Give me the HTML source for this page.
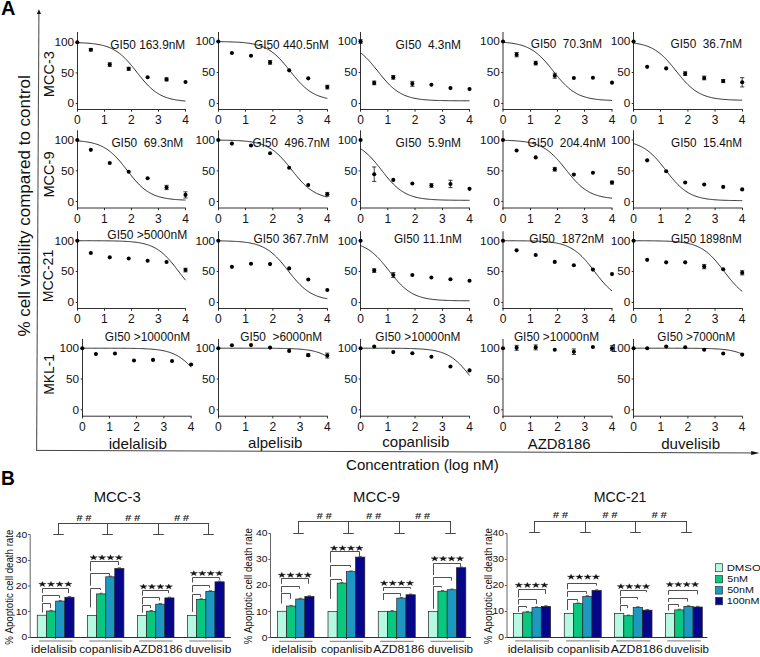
<!DOCTYPE html>
<html><head><meta charset="utf-8"><style>
html,body{margin:0;padding:0;background:#fff;}
svg{display:block;}
text{font-family:"Liberation Sans", sans-serif;font-kerning:none;white-space:pre;}
</style></head><body>
<svg width="760" height="657" viewBox="0 0 760 657">
<rect width="760" height="657" fill="#fff"/>
<text x="0.90" y="14.60" font-size="19.60" textLength="14.42" lengthAdjust="spacingAndGlyphs" font-weight="bold" fill="#000">A</text>
<line x1="38.90" y1="13.00" x2="36.60" y2="450.40" stroke="#555" stroke-width="1.1"/>
<line x1="36.10" y1="450.40" x2="752.50" y2="452.95" stroke="#444" stroke-width="1.0"/>
<polygon points="759.4,453.0 751.2,450.9 751.2,455.1" fill="#111"/>
<polygon points="38.95,9.2 36.9,13.9 41.0,13.9" fill="#111"/>
<text transform="translate(30.20,336.61) rotate(-90)" x="0" y="0" font-size="17.00" textLength="261.35" lengthAdjust="spacingAndGlyphs" fill="#111">% cell viability compared to control</text>
<text transform="translate(54.10,97.20) rotate(-90)" x="0" y="0" font-size="13.80" textLength="46.14" lengthAdjust="spacingAndGlyphs" fill="#111">MCC-3</text>
<text transform="translate(53.70,197.59) rotate(-90)" x="0" y="0" font-size="13.80" textLength="46.08" lengthAdjust="spacingAndGlyphs" fill="#111">MCC-9</text>
<text transform="translate(53.40,302.16) rotate(-90)" x="0" y="0" font-size="13.80" textLength="52.44" lengthAdjust="spacingAndGlyphs" fill="#111">MCC-21</text>
<text transform="translate(54.10,394.84) rotate(-90)" x="0" y="0" font-size="13.80" textLength="40.92" lengthAdjust="spacingAndGlyphs" fill="#111">MKL-1</text>
<line x1="77.50" y1="32.00" x2="77.50" y2="110.00" stroke="#1a1a1a" stroke-width="0.9"/>
<line x1="77.05" y1="109.50" x2="185.95" y2="109.50" stroke="#1a1a1a" stroke-width="0.9"/>
<line x1="77.50" y1="109.50" x2="77.50" y2="111.70" stroke="#1a1a1a" stroke-width="0.9"/>
<line x1="104.50" y1="109.50" x2="104.50" y2="111.70" stroke="#1a1a1a" stroke-width="0.9"/>
<line x1="131.50" y1="109.50" x2="131.50" y2="111.70" stroke="#1a1a1a" stroke-width="0.9"/>
<line x1="158.50" y1="109.50" x2="158.50" y2="111.70" stroke="#1a1a1a" stroke-width="0.9"/>
<line x1="185.50" y1="109.50" x2="185.50" y2="111.70" stroke="#1a1a1a" stroke-width="0.9"/>
<line x1="75.70" y1="103.50" x2="77.50" y2="103.50" stroke="#1a1a1a" stroke-width="0.9"/>
<line x1="75.70" y1="72.90" x2="77.50" y2="72.90" stroke="#1a1a1a" stroke-width="0.9"/>
<line x1="75.70" y1="42.50" x2="77.50" y2="42.50" stroke="#1a1a1a" stroke-width="0.9"/>
<text x="77.30" y="124.20" font-size="12.00" text-anchor="middle" fill="#111">0</text>
<text x="104.35" y="124.20" font-size="12.00" text-anchor="middle" fill="#111">1</text>
<text x="131.40" y="124.20" font-size="12.00" text-anchor="middle" fill="#111">2</text>
<text x="158.45" y="124.20" font-size="12.00" text-anchor="middle" fill="#111">3</text>
<text x="185.50" y="124.20" font-size="12.00" text-anchor="middle" fill="#111">4</text>
<text x="74.10" y="107.30" font-size="11.80" text-anchor="end" fill="#111">0</text>
<text x="74.10" y="76.70" font-size="11.80" text-anchor="end" fill="#111">50</text>
<text x="74.10" y="46.10" font-size="11.80" text-anchor="end" fill="#111">100</text>
<polyline points="77.30,42.67 78.20,42.70 79.10,42.74 80.00,42.77 80.91,42.81 81.81,42.85 82.71,42.89 83.61,42.94 84.51,42.99 85.41,43.04 86.32,43.10 87.22,43.16 88.12,43.23 89.02,43.30 89.92,43.38 90.83,43.47 91.73,43.56 92.63,43.66 93.53,43.76 94.43,43.88 95.33,44.00 96.23,44.13 97.14,44.27 98.04,44.42 98.94,44.58 99.84,44.76 100.74,44.95 101.64,45.15 102.55,45.36 103.45,45.59 104.35,45.84 105.25,46.11 106.15,46.39 107.06,46.69 107.96,47.01 108.86,47.36 109.76,47.72 110.66,48.12 111.56,48.53 112.47,48.97 113.37,49.44 114.27,49.94 115.17,50.46 116.07,51.02 116.97,51.61 117.88,52.23 118.78,52.88 119.68,53.56 120.58,54.28 121.48,55.03 122.38,55.82 123.28,56.64 124.19,57.49 125.09,58.37 125.99,59.29 126.89,60.24 127.79,61.22 128.69,62.22 129.60,63.25 130.50,64.31 131.40,65.38 132.30,66.48 133.20,67.59 134.11,68.72 135.01,69.85 135.91,70.99 136.81,72.14 137.71,73.28 138.61,74.42 139.51,75.55 140.42,76.68 141.32,77.79 142.22,78.89 143.12,79.96 144.02,81.02 144.93,82.05 145.83,83.05 146.73,84.03 147.63,84.98 148.53,85.90 149.43,86.78 150.34,87.63 151.24,88.45 152.14,89.24 153.04,89.99 153.94,90.71 154.84,91.39 155.75,92.04 156.65,92.66 157.55,93.25 158.45,93.81 159.35,94.33 160.25,94.83 161.16,95.30 162.06,95.74 162.96,96.15 163.86,96.55 164.76,96.91 165.66,97.26 166.56,97.58 167.47,97.88 168.37,98.16 169.27,98.43 170.17,98.68 171.07,98.91 171.97,99.12 172.88,99.32 173.78,99.51 174.68,99.69 175.58,99.85 176.48,100.00 177.38,100.14 178.29,100.27 179.19,100.39 180.09,100.51 180.99,100.61 181.89,100.71 182.80,100.80 183.70,100.89 184.60,100.97 185.50,101.04" fill="none" stroke="#151515" stroke-width="0.9"/>
<circle cx="77.30" cy="42.30" r="2.05" fill="#000"/>
<line x1="90.83" y1="48.48" x2="90.83" y2="50.93" stroke="#111" stroke-width="0.8"/>
<line x1="88.73" y1="48.48" x2="92.92" y2="48.48" stroke="#111" stroke-width="0.8"/>
<line x1="88.73" y1="50.93" x2="92.92" y2="50.93" stroke="#111" stroke-width="0.8"/>
<circle cx="90.83" cy="49.71" r="2.05" fill="#000"/>
<line x1="109.76" y1="62.74" x2="109.76" y2="66.41" stroke="#111" stroke-width="0.8"/>
<line x1="107.66" y1="62.74" x2="111.86" y2="62.74" stroke="#111" stroke-width="0.8"/>
<line x1="107.66" y1="66.41" x2="111.86" y2="66.41" stroke="#111" stroke-width="0.8"/>
<circle cx="109.76" cy="64.58" r="2.05" fill="#000"/>
<line x1="128.69" y1="67.27" x2="128.69" y2="70.33" stroke="#111" stroke-width="0.8"/>
<line x1="126.59" y1="67.27" x2="130.79" y2="67.27" stroke="#111" stroke-width="0.8"/>
<line x1="126.59" y1="70.33" x2="130.79" y2="70.33" stroke="#111" stroke-width="0.8"/>
<circle cx="128.69" cy="68.80" r="2.05" fill="#000"/>
<circle cx="147.63" cy="77.18" r="2.05" fill="#000"/>
<line x1="166.56" y1="77.86" x2="166.56" y2="80.92" stroke="#111" stroke-width="0.8"/>
<line x1="164.47" y1="77.86" x2="168.66" y2="77.86" stroke="#111" stroke-width="0.8"/>
<line x1="164.47" y1="80.92" x2="168.66" y2="80.92" stroke="#111" stroke-width="0.8"/>
<circle cx="166.56" cy="79.39" r="2.05" fill="#000"/>
<circle cx="185.50" cy="81.96" r="2.05" fill="#000"/>
<text x="110.21" y="48.50" font-size="12.50" textLength="74.97" lengthAdjust="spacingAndGlyphs" fill="#111">GI50 163.9nM</text>
<line x1="218.50" y1="32.00" x2="218.50" y2="110.00" stroke="#1a1a1a" stroke-width="0.9"/>
<line x1="218.05" y1="109.50" x2="327.75" y2="109.50" stroke="#1a1a1a" stroke-width="0.9"/>
<line x1="218.50" y1="109.50" x2="218.50" y2="111.70" stroke="#1a1a1a" stroke-width="0.9"/>
<line x1="245.50" y1="109.50" x2="245.50" y2="111.70" stroke="#1a1a1a" stroke-width="0.9"/>
<line x1="272.80" y1="109.50" x2="272.80" y2="111.70" stroke="#1a1a1a" stroke-width="0.9"/>
<line x1="300.05" y1="109.50" x2="300.05" y2="111.70" stroke="#1a1a1a" stroke-width="0.9"/>
<line x1="327.50" y1="109.50" x2="327.50" y2="111.70" stroke="#1a1a1a" stroke-width="0.9"/>
<line x1="216.70" y1="103.50" x2="218.50" y2="103.50" stroke="#1a1a1a" stroke-width="0.9"/>
<line x1="216.70" y1="72.50" x2="218.50" y2="72.50" stroke="#1a1a1a" stroke-width="0.9"/>
<line x1="216.70" y1="41.50" x2="218.50" y2="41.50" stroke="#1a1a1a" stroke-width="0.9"/>
<text x="218.30" y="123.90" font-size="12.00" text-anchor="middle" fill="#111">0</text>
<text x="245.55" y="123.90" font-size="12.00" text-anchor="middle" fill="#111">1</text>
<text x="272.80" y="123.90" font-size="12.00" text-anchor="middle" fill="#111">2</text>
<text x="300.05" y="123.90" font-size="12.00" text-anchor="middle" fill="#111">3</text>
<text x="327.30" y="123.90" font-size="12.00" text-anchor="middle" fill="#111">4</text>
<text x="215.10" y="107.10" font-size="11.80" text-anchor="end" fill="#111">0</text>
<text x="215.10" y="76.20" font-size="11.80" text-anchor="end" fill="#111">50</text>
<text x="215.10" y="45.30" font-size="11.80" text-anchor="end" fill="#111">100</text>
<polyline points="218.30,41.64 219.21,41.65 220.12,41.66 221.03,41.67 221.93,41.68 222.84,41.70 223.75,41.71 224.66,41.73 225.57,41.75 226.48,41.77 227.38,41.79 228.29,41.81 229.20,41.84 230.11,41.87 231.02,41.90 231.93,41.93 232.83,41.96 233.74,42.00 234.65,42.04 235.56,42.08 236.47,42.12 237.38,42.17 238.28,42.23 239.19,42.28 240.10,42.35 241.01,42.41 241.92,42.48 242.83,42.56 243.73,42.64 244.64,42.73 245.55,42.83 246.46,42.93 247.37,43.04 248.28,43.16 249.18,43.29 250.09,43.43 251.00,43.58 251.91,43.74 252.82,43.91 253.73,44.09 254.63,44.29 255.54,44.50 256.45,44.73 257.36,44.97 258.27,45.23 259.18,45.51 260.08,45.80 260.99,46.12 261.90,46.46 262.81,46.82 263.72,47.20 264.62,47.61 265.53,48.04 266.44,48.50 267.35,48.99 268.26,49.51 269.17,50.06 270.07,50.63 270.98,51.24 271.89,51.88 272.80,52.56 273.71,53.27 274.62,54.01 275.53,54.78 276.43,55.59 277.34,56.43 278.25,57.30 279.16,58.21 280.07,59.15 280.98,60.11 281.88,61.11 282.79,62.13 283.70,63.17 284.61,64.24 285.52,65.32 286.43,66.42 287.33,67.54 288.24,68.67 289.15,69.80 290.06,70.94 290.97,72.07 291.88,73.21 292.78,74.34 293.69,75.46 294.60,76.57 295.51,77.66 296.42,78.73 297.32,79.79 298.23,80.82 299.14,81.82 300.05,82.80 300.96,83.75 301.87,84.67 302.78,85.55 303.68,86.41 304.59,87.23 305.50,88.02 306.41,88.77 307.32,89.49 308.23,90.18 309.13,90.83 310.04,91.45 310.95,92.04 311.86,92.60 312.77,93.13 313.68,93.63 314.58,94.10 315.49,94.55 316.40,94.97 317.31,95.36 318.22,95.73 319.12,96.07 320.03,96.40 320.94,96.70 321.85,96.99 322.76,97.26 323.67,97.50 324.57,97.74 325.48,97.95 326.39,98.16 327.30,98.35" fill="none" stroke="#151515" stroke-width="0.9"/>
<circle cx="218.30" cy="41.50" r="2.05" fill="#000"/>
<circle cx="231.93" cy="52.99" r="2.05" fill="#000"/>
<circle cx="251.00" cy="55.71" r="2.05" fill="#000"/>
<line x1="270.07" y1="60.53" x2="270.07" y2="64.24" stroke="#111" stroke-width="0.8"/>
<line x1="267.97" y1="60.53" x2="272.18" y2="60.53" stroke="#111" stroke-width="0.8"/>
<line x1="267.97" y1="64.24" x2="272.18" y2="64.24" stroke="#111" stroke-width="0.8"/>
<circle cx="270.07" cy="62.39" r="2.05" fill="#000"/>
<circle cx="289.15" cy="70.36" r="2.05" fill="#000"/>
<circle cx="308.23" cy="78.33" r="2.05" fill="#000"/>
<line x1="327.30" y1="85.25" x2="327.30" y2="88.96" stroke="#111" stroke-width="0.8"/>
<line x1="325.20" y1="85.25" x2="329.40" y2="85.25" stroke="#111" stroke-width="0.8"/>
<line x1="325.20" y1="88.96" x2="329.40" y2="88.96" stroke="#111" stroke-width="0.8"/>
<circle cx="327.30" cy="87.11" r="2.05" fill="#000"/>
<text x="254.01" y="48.50" font-size="12.50" textLength="74.97" lengthAdjust="spacingAndGlyphs" fill="#111">GI50 440.5nM</text>
<line x1="360.50" y1="32.00" x2="360.50" y2="110.00" stroke="#1a1a1a" stroke-width="0.9"/>
<line x1="360.05" y1="109.50" x2="469.97" y2="109.50" stroke="#1a1a1a" stroke-width="0.9"/>
<line x1="360.50" y1="109.50" x2="360.50" y2="111.70" stroke="#1a1a1a" stroke-width="0.9"/>
<line x1="387.83" y1="109.50" x2="387.83" y2="111.70" stroke="#1a1a1a" stroke-width="0.9"/>
<line x1="415.06" y1="109.50" x2="415.06" y2="111.70" stroke="#1a1a1a" stroke-width="0.9"/>
<line x1="442.50" y1="109.50" x2="442.50" y2="111.70" stroke="#1a1a1a" stroke-width="0.9"/>
<line x1="469.50" y1="109.50" x2="469.50" y2="111.70" stroke="#1a1a1a" stroke-width="0.9"/>
<line x1="358.70" y1="103.50" x2="360.50" y2="103.50" stroke="#1a1a1a" stroke-width="0.9"/>
<line x1="358.70" y1="72.50" x2="360.50" y2="72.50" stroke="#1a1a1a" stroke-width="0.9"/>
<line x1="358.70" y1="41.50" x2="360.50" y2="41.50" stroke="#1a1a1a" stroke-width="0.9"/>
<text x="360.60" y="123.90" font-size="12.00" text-anchor="middle" fill="#111">0</text>
<text x="387.83" y="123.90" font-size="12.00" text-anchor="middle" fill="#111">1</text>
<text x="415.06" y="123.90" font-size="12.00" text-anchor="middle" fill="#111">2</text>
<text x="442.29" y="123.90" font-size="12.00" text-anchor="middle" fill="#111">3</text>
<text x="469.52" y="123.90" font-size="12.00" text-anchor="middle" fill="#111">4</text>
<text x="357.40" y="107.10" font-size="11.80" text-anchor="end" fill="#111">0</text>
<text x="357.40" y="76.20" font-size="11.80" text-anchor="end" fill="#111">50</text>
<text x="357.40" y="45.30" font-size="11.80" text-anchor="end" fill="#111">100</text>
<polyline points="360.60,52.77 361.51,53.48 362.42,54.23 363.32,55.02 364.23,55.84 365.14,56.69 366.05,57.57 366.95,58.49 367.86,59.43 368.77,60.41 369.68,61.41 370.58,62.44 371.49,63.49 372.40,64.56 373.31,65.65 374.22,66.76 375.12,67.88 376.03,69.00 376.94,70.14 377.85,71.28 378.75,72.42 379.66,73.55 380.57,74.68 381.48,75.79 382.38,76.90 383.29,77.98 384.20,79.05 385.11,80.10 386.01,81.12 386.92,82.12 387.83,83.09 388.74,84.03 389.65,84.94 390.55,85.81 391.46,86.66 392.37,87.47 393.28,88.25 394.18,88.99 395.09,89.70 396.00,90.38 396.91,91.02 397.81,91.63 398.72,92.22 399.63,92.77 400.54,93.29 401.45,93.78 402.35,94.24 403.26,94.68 404.17,95.09 405.08,95.47 405.98,95.83 406.89,96.17 407.80,96.49 408.71,96.79 409.61,97.07 410.52,97.33 411.43,97.58 412.34,97.80 413.24,98.02 414.15,98.22 415.06,98.40 415.97,98.57 416.88,98.73 417.78,98.88 418.69,99.02 419.60,99.15 420.51,99.27 421.41,99.39 422.32,99.49 423.23,99.59 424.14,99.68 425.04,99.76 425.95,99.84 426.86,99.91 427.77,99.98 428.68,100.04 429.58,100.10 430.49,100.15 431.40,100.20 432.31,100.25 433.21,100.29 434.12,100.33 435.03,100.36 435.94,100.40 436.84,100.43 437.75,100.46 438.66,100.49 439.57,100.51 440.47,100.53 441.38,100.56 442.29,100.58 443.20,100.59 444.11,100.61 445.01,100.63 445.92,100.64 446.83,100.66 447.74,100.67 448.64,100.68 449.55,100.69 450.46,100.70 451.37,100.71 452.27,100.72 453.18,100.73 454.09,100.73 455.00,100.74 455.91,100.75 456.81,100.75 457.72,100.76 458.63,100.76 459.54,100.77 460.44,100.77 461.35,100.78 462.26,100.78 463.17,100.78 464.07,100.79 464.98,100.79 465.89,100.79 466.80,100.80 467.70,100.80 468.61,100.80 469.52,100.80" fill="none" stroke="#151515" stroke-width="0.9"/>
<line x1="360.60" y1="39.65" x2="360.60" y2="43.35" stroke="#111" stroke-width="0.8"/>
<line x1="358.50" y1="39.65" x2="362.70" y2="39.65" stroke="#111" stroke-width="0.8"/>
<line x1="358.50" y1="43.35" x2="362.70" y2="43.35" stroke="#111" stroke-width="0.8"/>
<circle cx="360.60" cy="41.50" r="2.05" fill="#000"/>
<line x1="374.22" y1="81.05" x2="374.22" y2="84.76" stroke="#111" stroke-width="0.8"/>
<line x1="372.12" y1="81.05" x2="376.32" y2="81.05" stroke="#111" stroke-width="0.8"/>
<line x1="372.12" y1="84.76" x2="376.32" y2="84.76" stroke="#111" stroke-width="0.8"/>
<circle cx="374.22" cy="82.91" r="2.05" fill="#000"/>
<line x1="393.28" y1="75.49" x2="393.28" y2="79.20" stroke="#111" stroke-width="0.8"/>
<line x1="391.18" y1="75.49" x2="395.38" y2="75.49" stroke="#111" stroke-width="0.8"/>
<line x1="391.18" y1="79.20" x2="395.38" y2="79.20" stroke="#111" stroke-width="0.8"/>
<circle cx="393.28" cy="77.34" r="2.05" fill="#000"/>
<line x1="412.34" y1="81.36" x2="412.34" y2="86.30" stroke="#111" stroke-width="0.8"/>
<line x1="410.24" y1="81.36" x2="414.44" y2="81.36" stroke="#111" stroke-width="0.8"/>
<line x1="410.24" y1="86.30" x2="414.44" y2="86.30" stroke="#111" stroke-width="0.8"/>
<circle cx="412.34" cy="83.83" r="2.05" fill="#000"/>
<circle cx="431.40" cy="84.76" r="2.05" fill="#000"/>
<circle cx="450.46" cy="88.10" r="2.05" fill="#000"/>
<circle cx="469.52" cy="89.09" r="2.05" fill="#000"/>
<text x="395.60" y="48.50" font-size="12.50" textLength="65.37" lengthAdjust="spacingAndGlyphs" fill="#111">GI50  4.3nM</text>
<line x1="503.00" y1="32.00" x2="503.00" y2="110.00" stroke="#1a1a1a" stroke-width="0.9"/>
<line x1="502.55" y1="109.50" x2="612.45" y2="109.50" stroke="#1a1a1a" stroke-width="0.9"/>
<line x1="503.00" y1="109.50" x2="503.00" y2="111.70" stroke="#1a1a1a" stroke-width="0.9"/>
<line x1="530.50" y1="109.50" x2="530.50" y2="111.70" stroke="#1a1a1a" stroke-width="0.9"/>
<line x1="557.50" y1="109.50" x2="557.50" y2="111.70" stroke="#1a1a1a" stroke-width="0.9"/>
<line x1="584.50" y1="109.50" x2="584.50" y2="111.70" stroke="#1a1a1a" stroke-width="0.9"/>
<line x1="612.00" y1="109.50" x2="612.00" y2="111.70" stroke="#1a1a1a" stroke-width="0.9"/>
<line x1="501.20" y1="103.50" x2="503.00" y2="103.50" stroke="#1a1a1a" stroke-width="0.9"/>
<line x1="501.20" y1="72.50" x2="503.00" y2="72.50" stroke="#1a1a1a" stroke-width="0.9"/>
<line x1="501.20" y1="41.50" x2="503.00" y2="41.50" stroke="#1a1a1a" stroke-width="0.9"/>
<text x="503.00" y="123.90" font-size="12.00" text-anchor="middle" fill="#111">0</text>
<text x="530.25" y="123.90" font-size="12.00" text-anchor="middle" fill="#111">1</text>
<text x="557.50" y="123.90" font-size="12.00" text-anchor="middle" fill="#111">2</text>
<text x="584.75" y="123.90" font-size="12.00" text-anchor="middle" fill="#111">3</text>
<text x="612.00" y="123.90" font-size="12.00" text-anchor="middle" fill="#111">4</text>
<text x="499.80" y="107.10" font-size="11.80" text-anchor="end" fill="#111">0</text>
<text x="499.80" y="76.20" font-size="11.80" text-anchor="end" fill="#111">50</text>
<text x="499.80" y="45.30" font-size="11.80" text-anchor="end" fill="#111">100</text>
<polyline points="503.00,42.33 503.91,42.40 504.82,42.47 505.73,42.54 506.63,42.63 507.54,42.71 508.45,42.81 509.36,42.91 510.27,43.02 511.18,43.14 512.08,43.26 512.99,43.40 513.90,43.55 514.81,43.70 515.72,43.87 516.62,44.05 517.53,44.25 518.44,44.46 519.35,44.68 520.26,44.92 521.17,45.17 522.08,45.45 522.98,45.74 523.89,46.05 524.80,46.39 525.71,46.74 526.62,47.12 527.52,47.52 528.43,47.95 529.34,48.41 530.25,48.89 531.16,49.40 532.07,49.94 532.98,50.51 533.88,51.11 534.79,51.75 535.70,52.41 536.61,53.11 537.52,53.85 538.42,54.61 539.33,55.42 540.24,56.25 541.15,57.12 542.06,58.02 542.97,58.95 543.88,59.91 544.78,60.89 545.69,61.91 546.60,62.95 547.51,64.01 548.42,65.09 549.33,66.19 550.23,67.30 551.14,68.43 552.05,69.56 552.96,70.70 553.87,71.84 554.77,72.97 555.68,74.10 556.59,75.23 557.50,76.34 558.41,77.43 559.32,78.51 560.23,79.57 561.13,80.60 562.04,81.61 562.95,82.60 563.86,83.55 564.77,84.48 565.67,85.37 566.58,86.23 567.49,87.06 568.40,87.85 569.31,88.61 570.22,89.34 571.12,90.04 572.03,90.70 572.94,91.33 573.85,91.92 574.76,92.49 575.67,93.02 576.58,93.53 577.48,94.01 578.39,94.46 579.30,94.88 580.21,95.28 581.12,95.65 582.02,96.00 582.93,96.33 583.84,96.64 584.75,96.93 585.66,97.20 586.57,97.45 587.48,97.69 588.38,97.91 589.29,98.12 590.20,98.31 591.11,98.49 592.02,98.65 592.92,98.81 593.83,98.95 594.74,99.09 595.65,99.21 596.56,99.33 597.47,99.44 598.38,99.54 599.28,99.63 600.19,99.72 601.10,99.80 602.01,99.87 602.92,99.94 603.83,100.01 604.73,100.07 605.64,100.12 606.55,100.17 607.46,100.22 608.37,100.27 609.27,100.31 610.18,100.35 611.09,100.38 612.00,100.41" fill="none" stroke="#151515" stroke-width="0.9"/>
<circle cx="503.00" cy="41.50" r="2.05" fill="#000"/>
<line x1="516.62" y1="52.50" x2="516.62" y2="56.83" stroke="#111" stroke-width="0.8"/>
<line x1="514.52" y1="52.50" x2="518.73" y2="52.50" stroke="#111" stroke-width="0.8"/>
<line x1="514.52" y1="56.83" x2="518.73" y2="56.83" stroke="#111" stroke-width="0.8"/>
<circle cx="516.62" cy="54.66" r="2.05" fill="#000"/>
<line x1="535.70" y1="61.28" x2="535.70" y2="64.98" stroke="#111" stroke-width="0.8"/>
<line x1="533.60" y1="61.28" x2="537.80" y2="61.28" stroke="#111" stroke-width="0.8"/>
<line x1="533.60" y1="64.98" x2="537.80" y2="64.98" stroke="#111" stroke-width="0.8"/>
<circle cx="535.70" cy="63.13" r="2.05" fill="#000"/>
<line x1="554.77" y1="73.27" x2="554.77" y2="78.21" stroke="#111" stroke-width="0.8"/>
<line x1="552.67" y1="73.27" x2="556.88" y2="73.27" stroke="#111" stroke-width="0.8"/>
<line x1="552.67" y1="78.21" x2="556.88" y2="78.21" stroke="#111" stroke-width="0.8"/>
<circle cx="554.77" cy="75.74" r="2.05" fill="#000"/>
<circle cx="573.85" cy="77.96" r="2.05" fill="#000"/>
<circle cx="592.92" cy="77.71" r="2.05" fill="#000"/>
<circle cx="612.00" cy="82.66" r="2.05" fill="#000"/>
<text x="530.81" y="48.30" font-size="12.50" textLength="71.36" lengthAdjust="spacingAndGlyphs" fill="#111">GI50  70.3nM</text>
<line x1="633.50" y1="32.00" x2="633.50" y2="110.00" stroke="#1a1a1a" stroke-width="0.9"/>
<line x1="633.05" y1="109.50" x2="742.65" y2="109.50" stroke="#1a1a1a" stroke-width="0.9"/>
<line x1="633.50" y1="109.50" x2="633.50" y2="111.70" stroke="#1a1a1a" stroke-width="0.9"/>
<line x1="660.50" y1="109.50" x2="660.50" y2="111.70" stroke="#1a1a1a" stroke-width="0.9"/>
<line x1="687.90" y1="109.50" x2="687.90" y2="111.70" stroke="#1a1a1a" stroke-width="0.9"/>
<line x1="715.05" y1="109.50" x2="715.05" y2="111.70" stroke="#1a1a1a" stroke-width="0.9"/>
<line x1="742.50" y1="109.50" x2="742.50" y2="111.70" stroke="#1a1a1a" stroke-width="0.9"/>
<line x1="631.70" y1="103.50" x2="633.50" y2="103.50" stroke="#1a1a1a" stroke-width="0.9"/>
<line x1="631.70" y1="72.50" x2="633.50" y2="72.50" stroke="#1a1a1a" stroke-width="0.9"/>
<line x1="631.70" y1="41.50" x2="633.50" y2="41.50" stroke="#1a1a1a" stroke-width="0.9"/>
<text x="633.60" y="123.90" font-size="12.00" text-anchor="middle" fill="#111">0</text>
<text x="660.75" y="123.90" font-size="12.00" text-anchor="middle" fill="#111">1</text>
<text x="687.90" y="123.90" font-size="12.00" text-anchor="middle" fill="#111">2</text>
<text x="715.05" y="123.90" font-size="12.00" text-anchor="middle" fill="#111">3</text>
<text x="742.20" y="123.90" font-size="12.00" text-anchor="middle" fill="#111">4</text>
<text x="630.40" y="107.10" font-size="11.80" text-anchor="end" fill="#111">0</text>
<text x="630.40" y="76.20" font-size="11.80" text-anchor="end" fill="#111">50</text>
<text x="630.40" y="45.30" font-size="11.80" text-anchor="end" fill="#111">100</text>
<polyline points="633.60,43.06 634.50,43.18 635.41,43.31 636.32,43.45 637.22,43.60 638.12,43.76 639.03,43.94 639.94,44.12 640.84,44.32 641.75,44.53 642.65,44.76 643.56,45.01 644.46,45.27 645.37,45.55 646.27,45.85 647.18,46.17 648.08,46.51 648.99,46.87 649.89,47.26 650.80,47.67 651.70,48.11 652.61,48.57 653.51,49.06 654.42,49.58 655.32,50.13 656.23,50.72 657.13,51.33 658.03,51.97 658.94,52.65 659.85,53.36 660.75,54.10 661.65,54.88 662.56,55.69 663.47,56.53 664.37,57.41 665.27,58.32 666.18,59.25 667.09,60.22 667.99,61.21 668.89,62.23 669.80,63.27 670.71,64.34 671.61,65.42 672.51,66.52 673.42,67.63 674.33,68.75 675.23,69.87 676.13,71.00 677.04,72.13 677.95,73.26 678.85,74.38 679.75,75.49 680.66,76.58 681.57,77.66 682.47,78.73 683.38,79.77 684.28,80.78 685.19,81.77 686.09,82.74 687.00,83.67 687.90,84.57 688.81,85.45 689.71,86.29 690.62,87.09 691.52,87.87 692.43,88.61 693.33,89.31 694.24,89.99 695.14,90.63 696.05,91.24 696.95,91.82 697.86,92.36 698.76,92.88 699.66,93.37 700.57,93.83 701.48,94.27 702.38,94.68 703.29,95.06 704.19,95.42 705.10,95.76 706.00,96.08 706.90,96.37 707.81,96.65 708.72,96.91 709.62,97.16 710.52,97.38 711.43,97.59 712.34,97.79 713.24,97.98 714.14,98.15 715.05,98.31 715.96,98.46 716.86,98.60 717.76,98.73 718.67,98.85 719.58,98.96 720.48,99.06 721.38,99.16 722.29,99.25 723.20,99.33 724.10,99.41 725.00,99.48 725.91,99.55 726.82,99.61 727.72,99.67 728.62,99.72 729.53,99.77 730.44,99.81 731.34,99.86 732.25,99.90 733.15,99.93 734.06,99.97 734.96,100.00 735.87,100.03 736.77,100.05 737.68,100.08 738.58,100.10 739.49,100.12 740.39,100.14 741.30,100.16 742.20,100.18" fill="none" stroke="#151515" stroke-width="0.9"/>
<circle cx="633.60" cy="41.50" r="2.05" fill="#000"/>
<circle cx="647.18" cy="66.84" r="2.05" fill="#000"/>
<circle cx="666.18" cy="68.38" r="2.05" fill="#000"/>
<line x1="685.19" y1="71.78" x2="685.19" y2="75.49" stroke="#111" stroke-width="0.8"/>
<line x1="683.09" y1="71.78" x2="687.29" y2="71.78" stroke="#111" stroke-width="0.8"/>
<line x1="683.09" y1="75.49" x2="687.29" y2="75.49" stroke="#111" stroke-width="0.8"/>
<circle cx="685.19" cy="73.64" r="2.05" fill="#000"/>
<line x1="704.19" y1="76.11" x2="704.19" y2="79.82" stroke="#111" stroke-width="0.8"/>
<line x1="702.09" y1="76.11" x2="706.29" y2="76.11" stroke="#111" stroke-width="0.8"/>
<line x1="702.09" y1="79.82" x2="706.29" y2="79.82" stroke="#111" stroke-width="0.8"/>
<circle cx="704.19" cy="77.96" r="2.05" fill="#000"/>
<line x1="723.20" y1="79.51" x2="723.20" y2="82.60" stroke="#111" stroke-width="0.8"/>
<line x1="721.10" y1="79.51" x2="725.30" y2="79.51" stroke="#111" stroke-width="0.8"/>
<line x1="721.10" y1="82.60" x2="725.30" y2="82.60" stroke="#111" stroke-width="0.8"/>
<circle cx="723.20" cy="81.05" r="2.05" fill="#000"/>
<line x1="742.20" y1="77.65" x2="742.20" y2="86.92" stroke="#111" stroke-width="0.8"/>
<line x1="740.10" y1="77.65" x2="744.30" y2="77.65" stroke="#111" stroke-width="0.8"/>
<line x1="740.10" y1="86.92" x2="744.30" y2="86.92" stroke="#111" stroke-width="0.8"/>
<circle cx="742.20" cy="82.29" r="2.05" fill="#000"/>
<text x="670.61" y="48.30" font-size="12.50" textLength="71.56" lengthAdjust="spacingAndGlyphs" fill="#111">GI50  36.7nM</text>
<line x1="77.50" y1="130.30" x2="77.50" y2="208.50" stroke="#1a1a1a" stroke-width="0.9"/>
<line x1="77.05" y1="208.00" x2="185.95" y2="208.00" stroke="#1a1a1a" stroke-width="0.9"/>
<line x1="77.50" y1="208.00" x2="77.50" y2="210.20" stroke="#1a1a1a" stroke-width="0.9"/>
<line x1="104.50" y1="208.00" x2="104.50" y2="210.20" stroke="#1a1a1a" stroke-width="0.9"/>
<line x1="131.50" y1="208.00" x2="131.50" y2="210.20" stroke="#1a1a1a" stroke-width="0.9"/>
<line x1="158.50" y1="208.00" x2="158.50" y2="210.20" stroke="#1a1a1a" stroke-width="0.9"/>
<line x1="185.50" y1="208.00" x2="185.50" y2="210.20" stroke="#1a1a1a" stroke-width="0.9"/>
<line x1="75.70" y1="201.50" x2="77.50" y2="201.50" stroke="#1a1a1a" stroke-width="0.9"/>
<line x1="75.70" y1="170.85" x2="77.50" y2="170.85" stroke="#1a1a1a" stroke-width="0.9"/>
<line x1="75.70" y1="140.00" x2="77.50" y2="140.00" stroke="#1a1a1a" stroke-width="0.9"/>
<text x="77.30" y="222.60" font-size="12.00" text-anchor="middle" fill="#111">0</text>
<text x="104.35" y="222.60" font-size="12.00" text-anchor="middle" fill="#111">1</text>
<text x="131.40" y="222.60" font-size="12.00" text-anchor="middle" fill="#111">2</text>
<text x="158.45" y="222.60" font-size="12.00" text-anchor="middle" fill="#111">3</text>
<text x="185.50" y="222.60" font-size="12.00" text-anchor="middle" fill="#111">4</text>
<text x="74.10" y="205.50" font-size="11.80" text-anchor="end" fill="#111">0</text>
<text x="74.10" y="174.65" font-size="11.80" text-anchor="end" fill="#111">50</text>
<text x="74.10" y="143.80" font-size="11.80" text-anchor="end" fill="#111">100</text>
<polyline points="77.30,140.86 78.20,140.93 79.10,141.00 80.00,141.08 80.91,141.17 81.81,141.26 82.71,141.35 83.61,141.46 84.51,141.57 85.41,141.69 86.32,141.83 87.22,141.97 88.12,142.12 89.02,142.28 89.92,142.46 90.83,142.64 91.73,142.84 92.63,143.06 93.53,143.29 94.43,143.54 95.33,143.80 96.23,144.08 97.14,144.39 98.04,144.71 98.94,145.05 99.84,145.42 100.74,145.81 101.64,146.23 102.55,146.67 103.45,147.14 104.35,147.64 105.25,148.16 106.15,148.72 107.06,149.31 107.96,149.93 108.86,150.58 109.76,151.27 110.66,151.99 111.56,152.75 112.47,153.54 113.37,154.36 114.27,155.22 115.17,156.11 116.07,157.03 116.97,157.98 117.88,158.97 118.78,159.98 119.68,161.02 120.58,162.09 121.48,163.17 122.38,164.28 123.28,165.40 124.19,166.54 125.09,167.69 125.99,168.84 126.89,170.00 127.79,171.16 128.69,172.32 129.60,173.47 130.50,174.61 131.40,175.74 132.30,176.85 133.20,177.95 134.11,179.02 135.01,180.07 135.91,181.10 136.81,182.09 137.71,183.06 138.61,183.99 139.51,184.90 140.42,185.77 141.32,186.61 142.22,187.41 143.12,188.18 144.02,188.91 144.93,189.61 145.83,190.28 146.73,190.91 147.63,191.51 148.53,192.08 149.43,192.62 150.34,193.13 151.24,193.61 152.14,194.06 153.04,194.49 153.94,194.89 154.84,195.27 155.75,195.62 156.65,195.95 157.55,196.26 158.45,196.55 159.35,196.83 160.25,197.08 161.16,197.32 162.06,197.54 162.96,197.74 163.86,197.94 164.76,198.12 165.66,198.28 166.56,198.44 167.47,198.58 168.37,198.72 169.27,198.85 170.17,198.96 171.07,199.07 171.97,199.17 172.88,199.27 173.78,199.35 174.68,199.43 175.58,199.51 176.48,199.58 177.38,199.64 178.29,199.70 179.19,199.76 180.09,199.81 180.99,199.86 181.89,199.90 182.80,199.94 183.70,199.98 184.60,200.02 185.50,200.05" fill="none" stroke="#151515" stroke-width="0.9"/>
<circle cx="77.30" cy="140.00" r="2.05" fill="#000"/>
<circle cx="90.83" cy="149.87" r="2.05" fill="#000"/>
<circle cx="109.76" cy="162.95" r="2.05" fill="#000"/>
<circle cx="128.69" cy="171.71" r="2.05" fill="#000"/>
<circle cx="147.63" cy="178.25" r="2.05" fill="#000"/>
<line x1="166.56" y1="185.35" x2="166.56" y2="189.67" stroke="#111" stroke-width="0.8"/>
<line x1="164.47" y1="185.35" x2="168.66" y2="185.35" stroke="#111" stroke-width="0.8"/>
<line x1="164.47" y1="189.67" x2="168.66" y2="189.67" stroke="#111" stroke-width="0.8"/>
<circle cx="166.56" cy="187.51" r="2.05" fill="#000"/>
<line x1="185.50" y1="191.83" x2="185.50" y2="198.00" stroke="#111" stroke-width="0.8"/>
<line x1="183.40" y1="191.83" x2="187.60" y2="191.83" stroke="#111" stroke-width="0.8"/>
<line x1="183.40" y1="198.00" x2="187.60" y2="198.00" stroke="#111" stroke-width="0.8"/>
<circle cx="185.50" cy="194.91" r="2.05" fill="#000"/>
<text x="111.40" y="147.10" font-size="12.50" textLength="71.87" lengthAdjust="spacingAndGlyphs" fill="#111">GI50  69.3nM</text>
<line x1="218.50" y1="130.30" x2="218.50" y2="208.50" stroke="#1a1a1a" stroke-width="0.9"/>
<line x1="218.05" y1="208.00" x2="327.75" y2="208.00" stroke="#1a1a1a" stroke-width="0.9"/>
<line x1="218.50" y1="208.00" x2="218.50" y2="210.20" stroke="#1a1a1a" stroke-width="0.9"/>
<line x1="245.50" y1="208.00" x2="245.50" y2="210.20" stroke="#1a1a1a" stroke-width="0.9"/>
<line x1="272.80" y1="208.00" x2="272.80" y2="210.20" stroke="#1a1a1a" stroke-width="0.9"/>
<line x1="300.05" y1="208.00" x2="300.05" y2="210.20" stroke="#1a1a1a" stroke-width="0.9"/>
<line x1="327.50" y1="208.00" x2="327.50" y2="210.20" stroke="#1a1a1a" stroke-width="0.9"/>
<line x1="216.70" y1="201.50" x2="218.50" y2="201.50" stroke="#1a1a1a" stroke-width="0.9"/>
<line x1="216.70" y1="170.85" x2="218.50" y2="170.85" stroke="#1a1a1a" stroke-width="0.9"/>
<line x1="216.70" y1="140.00" x2="218.50" y2="140.00" stroke="#1a1a1a" stroke-width="0.9"/>
<text x="218.30" y="222.60" font-size="12.00" text-anchor="middle" fill="#111">0</text>
<text x="245.55" y="222.60" font-size="12.00" text-anchor="middle" fill="#111">1</text>
<text x="272.80" y="222.60" font-size="12.00" text-anchor="middle" fill="#111">2</text>
<text x="300.05" y="222.60" font-size="12.00" text-anchor="middle" fill="#111">3</text>
<text x="327.30" y="222.60" font-size="12.00" text-anchor="middle" fill="#111">4</text>
<text x="215.10" y="205.50" font-size="11.80" text-anchor="end" fill="#111">0</text>
<text x="215.10" y="174.65" font-size="11.80" text-anchor="end" fill="#111">50</text>
<text x="215.10" y="143.80" font-size="11.80" text-anchor="end" fill="#111">100</text>
<polyline points="218.30,140.12 219.21,140.13 220.12,140.14 221.03,140.15 221.93,140.16 222.84,140.18 223.75,140.19 224.66,140.21 225.57,140.22 226.48,140.24 227.38,140.26 228.29,140.28 229.20,140.30 230.11,140.33 231.02,140.35 231.93,140.38 232.83,140.41 233.74,140.44 234.65,140.48 235.56,140.51 236.47,140.55 237.38,140.60 238.28,140.65 239.19,140.70 240.10,140.75 241.01,140.81 241.92,140.87 242.83,140.94 243.73,141.02 244.64,141.10 245.55,141.18 246.46,141.27 247.37,141.37 248.28,141.48 249.18,141.59 250.09,141.72 251.00,141.85 251.91,141.99 252.82,142.15 253.73,142.31 254.63,142.49 255.54,142.68 256.45,142.88 257.36,143.10 258.27,143.33 259.18,143.58 260.08,143.85 260.99,144.14 261.90,144.44 262.81,144.77 263.72,145.12 264.62,145.49 265.53,145.88 266.44,146.30 267.35,146.75 268.26,147.22 269.17,147.72 270.07,148.25 270.98,148.81 271.89,149.41 272.80,150.03 273.71,150.69 274.62,151.38 275.53,152.10 276.43,152.86 277.34,153.65 278.25,154.48 279.16,155.34 280.07,156.23 280.98,157.15 281.88,158.11 282.79,159.09 283.70,160.10 284.61,161.14 285.52,162.20 286.43,163.28 287.33,164.38 288.24,165.50 289.15,166.63 290.06,167.77 290.97,168.91 291.88,170.06 292.78,171.21 293.69,172.35 294.60,173.49 295.51,174.62 296.42,175.73 297.32,176.83 298.23,177.90 299.14,178.96 300.05,179.99 300.96,181.00 301.87,181.97 302.78,182.92 303.68,183.84 304.59,184.72 305.50,185.57 306.41,186.39 307.32,187.17 308.23,187.92 309.13,188.64 310.04,189.32 310.95,189.97 311.86,190.59 312.77,191.17 313.68,191.73 314.58,192.25 315.49,192.74 316.40,193.21 317.31,193.65 318.22,194.06 319.12,194.45 320.03,194.82 320.94,195.16 321.85,195.48 322.76,195.78 323.67,196.06 324.57,196.33 325.48,196.57 326.39,196.80 327.30,197.02" fill="none" stroke="#151515" stroke-width="0.9"/>
<circle cx="218.30" cy="140.00" r="2.05" fill="#000"/>
<circle cx="231.93" cy="143.58" r="2.05" fill="#000"/>
<circle cx="251.00" cy="145.55" r="2.05" fill="#000"/>
<circle cx="270.07" cy="153.27" r="2.05" fill="#000"/>
<circle cx="289.15" cy="167.76" r="2.05" fill="#000"/>
<circle cx="308.23" cy="185.04" r="2.05" fill="#000"/>
<line x1="327.30" y1="192.44" x2="327.30" y2="196.15" stroke="#111" stroke-width="0.8"/>
<line x1="325.20" y1="192.44" x2="329.40" y2="192.44" stroke="#111" stroke-width="0.8"/>
<line x1="325.20" y1="196.15" x2="329.40" y2="196.15" stroke="#111" stroke-width="0.8"/>
<circle cx="327.30" cy="194.30" r="2.05" fill="#000"/>
<text x="252.61" y="146.80" font-size="12.50" textLength="77.25" lengthAdjust="spacingAndGlyphs" fill="#111">GI50  496.7nM</text>
<line x1="360.50" y1="130.30" x2="360.50" y2="208.50" stroke="#1a1a1a" stroke-width="0.9"/>
<line x1="360.05" y1="208.00" x2="469.97" y2="208.00" stroke="#1a1a1a" stroke-width="0.9"/>
<line x1="360.50" y1="208.00" x2="360.50" y2="210.20" stroke="#1a1a1a" stroke-width="0.9"/>
<line x1="387.83" y1="208.00" x2="387.83" y2="210.20" stroke="#1a1a1a" stroke-width="0.9"/>
<line x1="415.06" y1="208.00" x2="415.06" y2="210.20" stroke="#1a1a1a" stroke-width="0.9"/>
<line x1="442.50" y1="208.00" x2="442.50" y2="210.20" stroke="#1a1a1a" stroke-width="0.9"/>
<line x1="469.50" y1="208.00" x2="469.50" y2="210.20" stroke="#1a1a1a" stroke-width="0.9"/>
<line x1="358.70" y1="201.50" x2="360.50" y2="201.50" stroke="#1a1a1a" stroke-width="0.9"/>
<line x1="358.70" y1="170.85" x2="360.50" y2="170.85" stroke="#1a1a1a" stroke-width="0.9"/>
<line x1="358.70" y1="140.00" x2="360.50" y2="140.00" stroke="#1a1a1a" stroke-width="0.9"/>
<text x="360.60" y="222.60" font-size="12.00" text-anchor="middle" fill="#111">0</text>
<text x="387.83" y="222.60" font-size="12.00" text-anchor="middle" fill="#111">1</text>
<text x="415.06" y="222.60" font-size="12.00" text-anchor="middle" fill="#111">2</text>
<text x="442.29" y="222.60" font-size="12.00" text-anchor="middle" fill="#111">3</text>
<text x="469.52" y="222.60" font-size="12.00" text-anchor="middle" fill="#111">4</text>
<text x="357.40" y="205.50" font-size="11.80" text-anchor="end" fill="#111">0</text>
<text x="357.40" y="174.65" font-size="11.80" text-anchor="end" fill="#111">50</text>
<text x="357.40" y="143.80" font-size="11.80" text-anchor="end" fill="#111">100</text>
<polyline points="360.60,148.76 361.51,149.35 362.42,149.97 363.32,150.63 364.23,151.32 365.14,152.04 366.05,152.80 366.95,153.59 367.86,154.41 368.77,155.27 369.68,156.16 370.58,157.09 371.49,158.04 372.40,159.03 373.31,160.04 374.22,161.08 375.12,162.15 376.03,163.23 376.94,164.34 377.85,165.46 378.75,166.60 379.66,167.75 380.57,168.90 381.48,170.06 382.38,171.21 383.29,172.37 384.20,173.52 385.11,174.65 386.01,175.78 386.92,176.89 387.83,177.98 388.74,179.05 389.65,180.09 390.55,181.11 391.46,182.10 392.37,183.07 393.28,184.00 394.18,184.89 395.09,185.76 396.00,186.59 396.91,187.39 397.81,188.15 398.72,188.88 399.63,189.58 400.54,190.24 401.45,190.87 402.35,191.47 403.26,192.03 404.17,192.57 405.08,193.07 405.98,193.55 406.89,194.00 407.80,194.42 408.71,194.82 409.61,195.19 410.52,195.54 411.43,195.87 412.34,196.18 413.24,196.47 414.15,196.74 415.06,196.99 415.97,197.22 416.88,197.44 417.78,197.65 418.69,197.84 419.60,198.02 420.51,198.18 421.41,198.34 422.32,198.48 423.23,198.61 424.14,198.74 425.04,198.85 425.95,198.96 426.86,199.06 427.77,199.15 428.68,199.24 429.58,199.32 430.49,199.39 431.40,199.46 432.31,199.53 433.21,199.59 434.12,199.64 435.03,199.69 435.94,199.74 436.84,199.78 437.75,199.83 438.66,199.86 439.57,199.90 440.47,199.93 441.38,199.96 442.29,199.99 443.20,200.02 444.11,200.04 445.01,200.06 445.92,200.08 446.83,200.10 447.74,200.12 448.64,200.14 449.55,200.15 450.46,200.17 451.37,200.18 452.27,200.19 453.18,200.20 454.09,200.21 455.00,200.22 455.91,200.23 456.81,200.24 457.72,200.25 458.63,200.25 459.54,200.26 460.44,200.27 461.35,200.27 462.26,200.28 463.17,200.28 464.07,200.29 464.98,200.29 465.89,200.29 466.80,200.30 467.70,200.30 468.61,200.30 469.52,200.31" fill="none" stroke="#151515" stroke-width="0.9"/>
<circle cx="360.60" cy="140.00" r="2.05" fill="#000"/>
<line x1="374.22" y1="166.96" x2="374.22" y2="181.40" stroke="#111" stroke-width="0.8"/>
<line x1="372.12" y1="166.96" x2="376.32" y2="166.96" stroke="#111" stroke-width="0.8"/>
<line x1="372.12" y1="181.40" x2="376.32" y2="181.40" stroke="#111" stroke-width="0.8"/>
<circle cx="374.22" cy="174.18" r="2.05" fill="#000"/>
<circle cx="393.28" cy="179.92" r="2.05" fill="#000"/>
<circle cx="412.34" cy="183.50" r="2.05" fill="#000"/>
<line x1="431.40" y1="183.62" x2="431.40" y2="187.32" stroke="#111" stroke-width="0.8"/>
<line x1="429.30" y1="183.62" x2="433.50" y2="183.62" stroke="#111" stroke-width="0.8"/>
<line x1="429.30" y1="187.32" x2="433.50" y2="187.32" stroke="#111" stroke-width="0.8"/>
<circle cx="431.40" cy="185.47" r="2.05" fill="#000"/>
<line x1="450.46" y1="180.23" x2="450.46" y2="187.63" stroke="#111" stroke-width="0.8"/>
<line x1="448.36" y1="180.23" x2="452.56" y2="180.23" stroke="#111" stroke-width="0.8"/>
<line x1="448.36" y1="187.63" x2="452.56" y2="187.63" stroke="#111" stroke-width="0.8"/>
<circle cx="450.46" cy="183.93" r="2.05" fill="#000"/>
<circle cx="469.52" cy="188.87" r="2.05" fill="#000"/>
<text x="395.60" y="146.90" font-size="12.50" textLength="65.37" lengthAdjust="spacingAndGlyphs" fill="#111">GI50  5.9nM</text>
<line x1="503.00" y1="130.30" x2="503.00" y2="208.50" stroke="#1a1a1a" stroke-width="0.9"/>
<line x1="502.55" y1="208.00" x2="612.45" y2="208.00" stroke="#1a1a1a" stroke-width="0.9"/>
<line x1="503.00" y1="208.00" x2="503.00" y2="210.20" stroke="#1a1a1a" stroke-width="0.9"/>
<line x1="530.50" y1="208.00" x2="530.50" y2="210.20" stroke="#1a1a1a" stroke-width="0.9"/>
<line x1="557.50" y1="208.00" x2="557.50" y2="210.20" stroke="#1a1a1a" stroke-width="0.9"/>
<line x1="584.50" y1="208.00" x2="584.50" y2="210.20" stroke="#1a1a1a" stroke-width="0.9"/>
<line x1="612.00" y1="208.00" x2="612.00" y2="210.20" stroke="#1a1a1a" stroke-width="0.9"/>
<line x1="501.20" y1="201.50" x2="503.00" y2="201.50" stroke="#1a1a1a" stroke-width="0.9"/>
<line x1="501.20" y1="170.85" x2="503.00" y2="170.85" stroke="#1a1a1a" stroke-width="0.9"/>
<line x1="501.20" y1="140.00" x2="503.00" y2="140.00" stroke="#1a1a1a" stroke-width="0.9"/>
<text x="503.00" y="222.60" font-size="12.00" text-anchor="middle" fill="#111">0</text>
<text x="530.25" y="222.60" font-size="12.00" text-anchor="middle" fill="#111">1</text>
<text x="557.50" y="222.60" font-size="12.00" text-anchor="middle" fill="#111">2</text>
<text x="584.75" y="222.60" font-size="12.00" text-anchor="middle" fill="#111">3</text>
<text x="612.00" y="222.60" font-size="12.00" text-anchor="middle" fill="#111">4</text>
<text x="499.80" y="205.50" font-size="11.80" text-anchor="end" fill="#111">0</text>
<text x="499.80" y="174.65" font-size="11.80" text-anchor="end" fill="#111">50</text>
<text x="499.80" y="143.80" font-size="11.80" text-anchor="end" fill="#111">100</text>
<polyline points="503.00,140.29 503.91,140.31 504.82,140.34 505.73,140.36 506.63,140.39 507.54,140.42 508.45,140.46 509.36,140.49 510.27,140.53 511.18,140.57 512.08,140.62 512.99,140.67 513.90,140.72 514.81,140.78 515.72,140.84 516.62,140.91 517.53,140.98 518.44,141.05 519.35,141.14 520.26,141.22 521.17,141.32 522.08,141.42 522.98,141.53 523.89,141.65 524.80,141.78 525.71,141.92 526.62,142.06 527.52,142.22 528.43,142.39 529.34,142.58 530.25,142.77 531.16,142.98 532.07,143.21 532.98,143.45 533.88,143.71 534.79,143.98 535.70,144.28 536.61,144.59 537.52,144.93 538.42,145.28 539.33,145.67 540.24,146.07 541.15,146.50 542.06,146.96 542.97,147.45 543.88,147.96 544.78,148.50 545.69,149.08 546.60,149.68 547.51,150.32 548.42,150.99 549.33,151.70 550.23,152.44 551.14,153.21 552.05,154.01 552.96,154.85 553.87,155.72 554.77,156.62 555.68,157.56 556.59,158.52 557.50,159.51 558.41,160.53 559.32,161.57 560.23,162.64 561.13,163.72 562.04,164.82 562.95,165.94 563.86,167.06 564.77,168.20 565.67,169.34 566.58,170.47 567.49,171.61 568.40,172.74 569.31,173.86 570.22,174.97 571.12,176.07 572.03,177.14 572.94,178.20 573.85,179.23 574.76,180.24 575.67,181.22 576.58,182.17 577.48,183.10 578.39,183.99 579.30,184.84 580.21,185.67 581.12,186.46 582.02,187.22 582.93,187.94 583.84,188.63 584.75,189.29 585.66,189.92 586.57,190.51 587.48,191.07 588.38,191.60 589.29,192.11 590.20,192.58 591.11,193.03 592.02,193.45 592.92,193.85 593.83,194.22 594.74,194.57 595.65,194.89 596.56,195.20 597.47,195.49 598.38,195.76 599.28,196.01 600.19,196.24 601.10,196.46 602.01,196.66 602.92,196.85 603.83,197.03 604.73,197.20 605.64,197.35 606.55,197.49 607.46,197.63 608.37,197.75 609.27,197.87 610.18,197.98 611.09,198.08 612.00,198.17" fill="none" stroke="#151515" stroke-width="0.9"/>
<circle cx="503.00" cy="140.00" r="2.05" fill="#000"/>
<circle cx="516.62" cy="150.49" r="2.05" fill="#000"/>
<circle cx="535.70" cy="157.40" r="2.05" fill="#000"/>
<line x1="554.77" y1="167.39" x2="554.77" y2="171.10" stroke="#111" stroke-width="0.8"/>
<line x1="552.67" y1="167.39" x2="556.88" y2="167.39" stroke="#111" stroke-width="0.8"/>
<line x1="552.67" y1="171.10" x2="556.88" y2="171.10" stroke="#111" stroke-width="0.8"/>
<circle cx="554.77" cy="169.25" r="2.05" fill="#000"/>
<circle cx="573.85" cy="174.61" r="2.05" fill="#000"/>
<circle cx="592.92" cy="172.82" r="2.05" fill="#000"/>
<line x1="612.00" y1="181.03" x2="612.00" y2="184.12" stroke="#111" stroke-width="0.8"/>
<line x1="609.90" y1="181.03" x2="614.10" y2="181.03" stroke="#111" stroke-width="0.8"/>
<line x1="609.90" y1="184.12" x2="614.10" y2="184.12" stroke="#111" stroke-width="0.8"/>
<circle cx="612.00" cy="182.57" r="2.05" fill="#000"/>
<text x="527.60" y="146.80" font-size="12.50" textLength="78.27" lengthAdjust="spacingAndGlyphs" fill="#111">GI50  204.4nM</text>
<line x1="633.50" y1="130.30" x2="633.50" y2="208.50" stroke="#1a1a1a" stroke-width="0.9"/>
<line x1="633.05" y1="208.00" x2="742.65" y2="208.00" stroke="#1a1a1a" stroke-width="0.9"/>
<line x1="633.50" y1="208.00" x2="633.50" y2="210.20" stroke="#1a1a1a" stroke-width="0.9"/>
<line x1="660.50" y1="208.00" x2="660.50" y2="210.20" stroke="#1a1a1a" stroke-width="0.9"/>
<line x1="687.90" y1="208.00" x2="687.90" y2="210.20" stroke="#1a1a1a" stroke-width="0.9"/>
<line x1="715.05" y1="208.00" x2="715.05" y2="210.20" stroke="#1a1a1a" stroke-width="0.9"/>
<line x1="742.50" y1="208.00" x2="742.50" y2="210.20" stroke="#1a1a1a" stroke-width="0.9"/>
<line x1="631.70" y1="201.50" x2="633.50" y2="201.50" stroke="#1a1a1a" stroke-width="0.9"/>
<line x1="631.70" y1="170.85" x2="633.50" y2="170.85" stroke="#1a1a1a" stroke-width="0.9"/>
<line x1="631.70" y1="140.00" x2="633.50" y2="140.00" stroke="#1a1a1a" stroke-width="0.9"/>
<text x="633.60" y="222.60" font-size="12.00" text-anchor="middle" fill="#111">0</text>
<text x="660.75" y="222.60" font-size="12.00" text-anchor="middle" fill="#111">1</text>
<text x="687.90" y="222.60" font-size="12.00" text-anchor="middle" fill="#111">2</text>
<text x="715.05" y="222.60" font-size="12.00" text-anchor="middle" fill="#111">3</text>
<text x="742.20" y="222.60" font-size="12.00" text-anchor="middle" fill="#111">4</text>
<text x="630.40" y="205.50" font-size="11.80" text-anchor="end" fill="#111">0</text>
<text x="630.40" y="174.65" font-size="11.80" text-anchor="end" fill="#111">50</text>
<text x="630.40" y="143.80" font-size="11.80" text-anchor="end" fill="#111">100</text>
<polyline points="633.60,143.68 634.50,143.96 635.41,144.25 636.32,144.56 637.22,144.90 638.12,145.26 639.03,145.64 639.94,146.04 640.84,146.47 641.75,146.93 642.65,147.41 643.56,147.93 644.46,148.47 645.37,149.05 646.27,149.65 647.18,150.29 648.08,150.97 648.99,151.67 649.89,152.41 650.80,153.19 651.70,154.00 652.61,154.84 653.51,155.72 654.42,156.63 655.32,157.57 656.23,158.55 657.13,159.55 658.03,160.58 658.94,161.64 659.85,162.72 660.75,163.82 661.65,164.94 662.56,166.07 663.47,167.22 664.37,168.38 665.27,169.54 666.18,170.71 667.09,171.87 667.99,173.03 668.89,174.18 669.80,175.32 670.71,176.45 671.61,177.56 672.51,178.64 673.42,179.71 674.33,180.75 675.23,181.77 676.13,182.75 677.04,183.71 677.95,184.63 678.85,185.52 679.75,186.38 680.66,187.20 681.57,187.99 682.47,188.75 683.38,189.47 684.28,190.15 685.19,190.81 686.09,191.43 687.00,192.01 687.90,192.57 688.81,193.10 689.71,193.59 690.62,194.06 691.52,194.50 692.43,194.92 693.33,195.31 694.24,195.67 695.14,196.02 696.05,196.34 696.95,196.64 697.86,196.92 698.76,197.19 699.66,197.43 700.57,197.66 701.48,197.88 702.38,198.08 703.29,198.27 704.19,198.44 705.10,198.60 706.00,198.75 706.90,198.89 707.81,199.02 708.72,199.15 709.62,199.26 710.52,199.36 711.43,199.46 712.34,199.55 713.24,199.64 714.14,199.71 715.05,199.79 715.96,199.85 716.86,199.92 717.76,199.97 718.67,200.03 719.58,200.08 720.48,200.13 721.38,200.17 722.29,200.21 723.20,200.25 724.10,200.28 725.00,200.31 725.91,200.34 726.82,200.37 727.72,200.39 728.62,200.42 729.53,200.44 730.44,200.46 731.34,200.48 732.25,200.49 733.15,200.51 734.06,200.53 734.96,200.54 735.87,200.55 736.77,200.56 737.68,200.58 738.58,200.59 739.49,200.59 740.39,200.60 741.30,200.61 742.20,200.62" fill="none" stroke="#151515" stroke-width="0.9"/>
<circle cx="647.18" cy="160.36" r="2.05" fill="#000"/>
<circle cx="666.18" cy="171.22" r="2.05" fill="#000"/>
<circle cx="685.19" cy="182.57" r="2.05" fill="#000"/>
<circle cx="704.19" cy="184.49" r="2.05" fill="#000"/>
<circle cx="723.20" cy="186.89" r="2.05" fill="#000"/>
<circle cx="742.20" cy="189.42" r="2.05" fill="#000"/>
<text x="671.01" y="146.80" font-size="12.50" textLength="71.15" lengthAdjust="spacingAndGlyphs" fill="#111">GI50  15.4nM</text>
<line x1="77.50" y1="231.20" x2="77.50" y2="309.00" stroke="#1a1a1a" stroke-width="0.9"/>
<line x1="77.05" y1="308.50" x2="185.95" y2="308.50" stroke="#1a1a1a" stroke-width="0.9"/>
<line x1="77.50" y1="308.50" x2="77.50" y2="310.70" stroke="#1a1a1a" stroke-width="0.9"/>
<line x1="104.50" y1="308.50" x2="104.50" y2="310.70" stroke="#1a1a1a" stroke-width="0.9"/>
<line x1="131.50" y1="308.50" x2="131.50" y2="310.70" stroke="#1a1a1a" stroke-width="0.9"/>
<line x1="158.50" y1="308.50" x2="158.50" y2="310.70" stroke="#1a1a1a" stroke-width="0.9"/>
<line x1="185.50" y1="308.50" x2="185.50" y2="310.70" stroke="#1a1a1a" stroke-width="0.9"/>
<line x1="75.70" y1="302.50" x2="77.50" y2="302.50" stroke="#1a1a1a" stroke-width="0.9"/>
<line x1="75.70" y1="271.50" x2="77.50" y2="271.50" stroke="#1a1a1a" stroke-width="0.9"/>
<line x1="75.70" y1="240.50" x2="77.50" y2="240.50" stroke="#1a1a1a" stroke-width="0.9"/>
<text x="77.30" y="323.00" font-size="12.00" text-anchor="middle" fill="#111">0</text>
<text x="104.35" y="323.00" font-size="12.00" text-anchor="middle" fill="#111">1</text>
<text x="131.40" y="323.00" font-size="12.00" text-anchor="middle" fill="#111">2</text>
<text x="158.45" y="323.00" font-size="12.00" text-anchor="middle" fill="#111">3</text>
<text x="185.50" y="323.00" font-size="12.00" text-anchor="middle" fill="#111">4</text>
<text x="74.10" y="306.20" font-size="11.80" text-anchor="end" fill="#111">0</text>
<text x="74.10" y="275.35" font-size="11.80" text-anchor="end" fill="#111">50</text>
<text x="74.10" y="244.50" font-size="11.80" text-anchor="end" fill="#111">100</text>
<polyline points="77.30,240.71 78.20,240.71 79.10,240.71 80.00,240.71 80.91,240.71 81.81,240.72 82.71,240.72 83.61,240.72 84.51,240.72 85.41,240.72 86.32,240.72 87.22,240.73 88.12,240.73 89.02,240.73 89.92,240.73 90.83,240.73 91.73,240.74 92.63,240.74 93.53,240.74 94.43,240.75 95.33,240.75 96.23,240.75 97.14,240.76 98.04,240.76 98.94,240.77 99.84,240.77 100.74,240.78 101.64,240.79 102.55,240.79 103.45,240.80 104.35,240.81 105.25,240.82 106.15,240.83 107.06,240.84 107.96,240.85 108.86,240.86 109.76,240.87 110.66,240.89 111.56,240.90 112.47,240.92 113.37,240.94 114.27,240.95 115.17,240.97 116.07,241.00 116.97,241.02 117.88,241.05 118.78,241.07 119.68,241.10 120.58,241.13 121.48,241.17 122.38,241.21 123.28,241.25 124.19,241.29 125.09,241.33 125.99,241.38 126.89,241.44 127.79,241.50 128.69,241.56 129.60,241.63 130.50,241.70 131.40,241.78 132.30,241.86 133.20,241.95 134.11,242.05 135.01,242.16 135.91,242.27 136.81,242.39 137.71,242.52 138.61,242.66 139.51,242.81 140.42,242.98 141.32,243.15 142.22,243.34 143.12,243.54 144.02,243.75 144.93,243.98 145.83,244.23 146.73,244.50 147.63,244.78 148.53,245.08 149.43,245.40 150.34,245.75 151.24,246.12 152.14,246.51 153.04,246.92 153.94,247.37 154.84,247.84 155.75,248.34 156.65,248.87 157.55,249.42 158.45,250.02 159.35,250.64 160.25,251.30 161.16,251.99 162.06,252.71 162.96,253.47 163.86,254.27 164.76,255.10 165.66,255.96 166.56,256.86 167.47,257.79 168.37,258.76 169.27,259.75 170.17,260.78 171.07,261.83 171.97,262.91 172.88,264.01 173.78,265.13 174.68,266.27 175.58,267.43 176.48,268.60 177.38,269.78 178.29,270.96 179.19,272.14 180.09,273.32 180.99,274.50 181.89,275.67 182.80,276.83 183.70,277.97 184.60,279.09 185.50,280.19" fill="none" stroke="#151515" stroke-width="0.9"/>
<circle cx="77.30" cy="240.70" r="2.05" fill="#000"/>
<circle cx="90.83" cy="253.04" r="2.05" fill="#000"/>
<circle cx="109.76" cy="257.36" r="2.05" fill="#000"/>
<circle cx="128.69" cy="258.47" r="2.05" fill="#000"/>
<circle cx="147.63" cy="260.75" r="2.05" fill="#000"/>
<circle cx="166.56" cy="262.05" r="2.05" fill="#000"/>
<line x1="185.50" y1="268.22" x2="185.50" y2="271.92" stroke="#111" stroke-width="0.8"/>
<line x1="183.40" y1="268.22" x2="187.60" y2="268.22" stroke="#111" stroke-width="0.8"/>
<line x1="183.40" y1="271.92" x2="187.60" y2="271.92" stroke="#111" stroke-width="0.8"/>
<circle cx="185.50" cy="270.07" r="2.05" fill="#000"/>
<text x="107.30" y="239.30" font-size="12.50" textLength="79.89" lengthAdjust="spacingAndGlyphs" fill="#111">GI50 &gt;5000nM</text>
<line x1="218.50" y1="231.20" x2="218.50" y2="309.00" stroke="#1a1a1a" stroke-width="0.9"/>
<line x1="218.05" y1="308.50" x2="327.75" y2="308.50" stroke="#1a1a1a" stroke-width="0.9"/>
<line x1="218.50" y1="308.50" x2="218.50" y2="310.70" stroke="#1a1a1a" stroke-width="0.9"/>
<line x1="245.50" y1="308.50" x2="245.50" y2="310.70" stroke="#1a1a1a" stroke-width="0.9"/>
<line x1="272.80" y1="308.50" x2="272.80" y2="310.70" stroke="#1a1a1a" stroke-width="0.9"/>
<line x1="300.05" y1="308.50" x2="300.05" y2="310.70" stroke="#1a1a1a" stroke-width="0.9"/>
<line x1="327.50" y1="308.50" x2="327.50" y2="310.70" stroke="#1a1a1a" stroke-width="0.9"/>
<line x1="216.70" y1="302.50" x2="218.50" y2="302.50" stroke="#1a1a1a" stroke-width="0.9"/>
<line x1="216.70" y1="271.50" x2="218.50" y2="271.50" stroke="#1a1a1a" stroke-width="0.9"/>
<line x1="216.70" y1="240.50" x2="218.50" y2="240.50" stroke="#1a1a1a" stroke-width="0.9"/>
<text x="218.30" y="323.00" font-size="12.00" text-anchor="middle" fill="#111">0</text>
<text x="245.55" y="323.00" font-size="12.00" text-anchor="middle" fill="#111">1</text>
<text x="272.80" y="323.00" font-size="12.00" text-anchor="middle" fill="#111">2</text>
<text x="300.05" y="323.00" font-size="12.00" text-anchor="middle" fill="#111">3</text>
<text x="327.30" y="323.00" font-size="12.00" text-anchor="middle" fill="#111">4</text>
<text x="215.10" y="306.20" font-size="11.80" text-anchor="end" fill="#111">0</text>
<text x="215.10" y="275.35" font-size="11.80" text-anchor="end" fill="#111">50</text>
<text x="215.10" y="244.50" font-size="11.80" text-anchor="end" fill="#111">100</text>
<polyline points="218.30,240.86 219.21,240.88 220.12,240.89 221.03,240.91 221.93,240.92 222.84,240.94 223.75,240.96 224.66,240.98 225.57,241.00 226.48,241.03 227.38,241.05 228.29,241.08 229.20,241.11 230.11,241.14 231.02,241.18 231.93,241.21 232.83,241.25 233.74,241.30 234.65,241.35 235.56,241.40 236.47,241.45 237.38,241.51 238.28,241.57 239.19,241.64 240.10,241.72 241.01,241.80 241.92,241.88 242.83,241.97 243.73,242.07 244.64,242.18 245.55,242.29 246.46,242.42 247.37,242.55 248.28,242.69 249.18,242.85 250.09,243.01 251.00,243.19 251.91,243.38 252.82,243.58 253.73,243.80 254.63,244.03 255.54,244.28 256.45,244.55 257.36,244.84 258.27,245.14 259.18,245.47 260.08,245.82 260.99,246.19 261.90,246.58 262.81,247.00 263.72,247.45 264.62,247.92 265.53,248.43 266.44,248.96 267.35,249.52 268.26,250.11 269.17,250.74 270.07,251.40 270.98,252.09 271.89,252.81 272.80,253.57 273.71,254.37 274.62,255.20 275.53,256.06 276.43,256.95 277.34,257.88 278.25,258.83 279.16,259.82 280.07,260.84 280.98,261.88 281.88,262.94 282.79,264.03 283.70,265.13 284.61,266.25 285.52,267.39 286.43,268.53 287.33,269.68 288.24,270.84 289.15,271.99 290.06,273.14 290.97,274.28 291.88,275.42 292.78,276.54 293.69,277.64 294.60,278.72 295.51,279.79 296.42,280.82 297.32,281.84 298.23,282.82 299.14,283.77 300.05,284.70 300.96,285.59 301.87,286.45 302.78,287.27 303.68,288.06 304.59,288.82 305.50,289.54 306.41,290.23 307.32,290.88 308.23,291.51 309.13,292.10 310.04,292.65 310.95,293.18 311.86,293.68 312.77,294.15 313.68,294.60 314.58,295.02 315.49,295.41 316.40,295.78 317.31,296.12 318.22,296.45 319.12,296.75 320.03,297.03 320.94,297.30 321.85,297.55 322.76,297.78 323.67,298.00 324.57,298.20 325.48,298.39 326.39,298.56 327.30,298.73" fill="none" stroke="#151515" stroke-width="0.9"/>
<circle cx="218.30" cy="240.70" r="2.05" fill="#000"/>
<circle cx="231.93" cy="266.86" r="2.05" fill="#000"/>
<circle cx="251.00" cy="263.71" r="2.05" fill="#000"/>
<circle cx="270.07" cy="264.08" r="2.05" fill="#000"/>
<circle cx="289.15" cy="268.40" r="2.05" fill="#000"/>
<circle cx="308.23" cy="279.57" r="2.05" fill="#000"/>
<circle cx="327.30" cy="290.06" r="2.05" fill="#000"/>
<text x="253.61" y="243.10" font-size="12.50" textLength="74.86" lengthAdjust="spacingAndGlyphs" fill="#111">GI50 367.7nM</text>
<line x1="360.50" y1="231.20" x2="360.50" y2="309.00" stroke="#1a1a1a" stroke-width="0.9"/>
<line x1="360.05" y1="308.50" x2="469.97" y2="308.50" stroke="#1a1a1a" stroke-width="0.9"/>
<line x1="360.50" y1="308.50" x2="360.50" y2="310.70" stroke="#1a1a1a" stroke-width="0.9"/>
<line x1="387.83" y1="308.50" x2="387.83" y2="310.70" stroke="#1a1a1a" stroke-width="0.9"/>
<line x1="415.06" y1="308.50" x2="415.06" y2="310.70" stroke="#1a1a1a" stroke-width="0.9"/>
<line x1="442.50" y1="308.50" x2="442.50" y2="310.70" stroke="#1a1a1a" stroke-width="0.9"/>
<line x1="469.50" y1="308.50" x2="469.50" y2="310.70" stroke="#1a1a1a" stroke-width="0.9"/>
<line x1="358.70" y1="302.50" x2="360.50" y2="302.50" stroke="#1a1a1a" stroke-width="0.9"/>
<line x1="358.70" y1="271.50" x2="360.50" y2="271.50" stroke="#1a1a1a" stroke-width="0.9"/>
<line x1="358.70" y1="240.50" x2="360.50" y2="240.50" stroke="#1a1a1a" stroke-width="0.9"/>
<text x="360.60" y="323.00" font-size="12.00" text-anchor="middle" fill="#111">0</text>
<text x="387.83" y="323.00" font-size="12.00" text-anchor="middle" fill="#111">1</text>
<text x="415.06" y="323.00" font-size="12.00" text-anchor="middle" fill="#111">2</text>
<text x="442.29" y="323.00" font-size="12.00" text-anchor="middle" fill="#111">3</text>
<text x="469.52" y="323.00" font-size="12.00" text-anchor="middle" fill="#111">4</text>
<text x="357.40" y="306.20" font-size="11.80" text-anchor="end" fill="#111">0</text>
<text x="357.40" y="275.35" font-size="11.80" text-anchor="end" fill="#111">50</text>
<text x="357.40" y="244.50" font-size="11.80" text-anchor="end" fill="#111">100</text>
<polyline points="360.60,245.68 361.51,246.04 362.42,246.42 363.32,246.83 364.23,247.27 365.14,247.73 366.05,248.22 366.95,248.74 367.86,249.29 368.77,249.87 369.68,250.48 370.58,251.13 371.49,251.81 372.40,252.52 373.31,253.27 374.22,254.05 375.12,254.86 376.03,255.71 376.94,256.59 377.85,257.50 378.75,258.45 379.66,259.42 380.57,260.43 381.48,261.46 382.38,262.51 383.29,263.59 384.20,264.69 385.11,265.80 386.01,266.93 386.92,268.07 387.83,269.22 388.74,270.37 389.65,271.53 390.55,272.68 391.46,273.83 392.37,274.96 393.28,276.09 394.18,277.20 395.09,278.29 396.00,279.36 396.91,280.41 397.81,281.44 398.72,282.43 399.63,283.40 400.54,284.33 401.45,285.24 402.35,286.11 403.26,286.95 404.17,287.75 405.08,288.52 405.98,289.25 406.89,289.96 407.80,290.62 408.71,291.26 409.61,291.86 410.52,292.43 411.43,292.98 412.34,293.49 413.24,293.97 414.15,294.42 415.06,294.85 415.97,295.25 416.88,295.63 417.78,295.99 418.69,296.32 419.60,296.63 420.51,296.92 421.41,297.20 422.32,297.45 423.23,297.69 424.14,297.91 425.04,298.12 425.95,298.31 426.86,298.49 427.77,298.66 428.68,298.82 429.58,298.96 430.49,299.10 431.40,299.23 432.31,299.34 433.21,299.45 434.12,299.55 435.03,299.65 435.94,299.74 436.84,299.82 437.75,299.89 438.66,299.96 439.57,300.03 440.47,300.09 441.38,300.15 442.29,300.20 443.20,300.25 444.11,300.29 445.01,300.33 445.92,300.37 446.83,300.41 447.74,300.44 448.64,300.47 449.55,300.50 450.46,300.52 451.37,300.55 452.27,300.57 453.18,300.59 454.09,300.61 455.00,300.63 455.91,300.65 456.81,300.66 457.72,300.68 458.63,300.69 459.54,300.70 460.44,300.71 461.35,300.72 462.26,300.73 463.17,300.74 464.07,300.75 464.98,300.76 465.89,300.77 466.80,300.77 467.70,300.78 468.61,300.79 469.52,300.79" fill="none" stroke="#151515" stroke-width="0.9"/>
<circle cx="360.60" cy="240.70" r="2.05" fill="#000"/>
<line x1="374.22" y1="268.71" x2="374.22" y2="272.41" stroke="#111" stroke-width="0.8"/>
<line x1="372.12" y1="268.71" x2="376.32" y2="268.71" stroke="#111" stroke-width="0.8"/>
<line x1="372.12" y1="272.41" x2="376.32" y2="272.41" stroke="#111" stroke-width="0.8"/>
<circle cx="374.22" cy="270.56" r="2.05" fill="#000"/>
<line x1="393.28" y1="272.60" x2="393.28" y2="277.53" stroke="#111" stroke-width="0.8"/>
<line x1="391.18" y1="272.60" x2="395.38" y2="272.60" stroke="#111" stroke-width="0.8"/>
<line x1="391.18" y1="277.53" x2="395.38" y2="277.53" stroke="#111" stroke-width="0.8"/>
<circle cx="393.28" cy="275.07" r="2.05" fill="#000"/>
<circle cx="412.34" cy="275.07" r="2.05" fill="#000"/>
<circle cx="431.40" cy="277.47" r="2.05" fill="#000"/>
<circle cx="450.46" cy="279.20" r="2.05" fill="#000"/>
<circle cx="469.52" cy="280.81" r="2.05" fill="#000"/>
<text x="393.91" y="243.30" font-size="12.50" textLength="67.96" lengthAdjust="spacingAndGlyphs" fill="#111">GI50 11.1nM</text>
<line x1="503.00" y1="231.20" x2="503.00" y2="309.00" stroke="#1a1a1a" stroke-width="0.9"/>
<line x1="502.55" y1="308.50" x2="612.45" y2="308.50" stroke="#1a1a1a" stroke-width="0.9"/>
<line x1="503.00" y1="308.50" x2="503.00" y2="310.70" stroke="#1a1a1a" stroke-width="0.9"/>
<line x1="530.50" y1="308.50" x2="530.50" y2="310.70" stroke="#1a1a1a" stroke-width="0.9"/>
<line x1="557.50" y1="308.50" x2="557.50" y2="310.70" stroke="#1a1a1a" stroke-width="0.9"/>
<line x1="584.50" y1="308.50" x2="584.50" y2="310.70" stroke="#1a1a1a" stroke-width="0.9"/>
<line x1="612.00" y1="308.50" x2="612.00" y2="310.70" stroke="#1a1a1a" stroke-width="0.9"/>
<line x1="501.20" y1="302.50" x2="503.00" y2="302.50" stroke="#1a1a1a" stroke-width="0.9"/>
<line x1="501.20" y1="271.50" x2="503.00" y2="271.50" stroke="#1a1a1a" stroke-width="0.9"/>
<line x1="501.20" y1="240.50" x2="503.00" y2="240.50" stroke="#1a1a1a" stroke-width="0.9"/>
<text x="503.00" y="323.00" font-size="12.00" text-anchor="middle" fill="#111">0</text>
<text x="530.25" y="323.00" font-size="12.00" text-anchor="middle" fill="#111">1</text>
<text x="557.50" y="323.00" font-size="12.00" text-anchor="middle" fill="#111">2</text>
<text x="584.75" y="323.00" font-size="12.00" text-anchor="middle" fill="#111">3</text>
<text x="612.00" y="323.00" font-size="12.00" text-anchor="middle" fill="#111">4</text>
<text x="499.80" y="306.20" font-size="11.80" text-anchor="end" fill="#111">0</text>
<text x="499.80" y="275.35" font-size="11.80" text-anchor="end" fill="#111">50</text>
<text x="499.80" y="244.50" font-size="11.80" text-anchor="end" fill="#111">100</text>
<polyline points="503.00,240.73 503.91,240.73 504.82,240.73 505.73,240.73 506.63,240.74 507.54,240.74 508.45,240.74 509.36,240.75 510.27,240.75 511.18,240.75 512.08,240.76 512.99,240.76 513.90,240.77 514.81,240.77 515.72,240.78 516.62,240.79 517.53,240.79 518.44,240.80 519.35,240.81 520.26,240.82 521.17,240.82 522.08,240.83 522.98,240.85 523.89,240.86 524.80,240.87 525.71,240.88 526.62,240.90 527.52,240.91 528.43,240.93 529.34,240.95 530.25,240.97 531.16,240.99 532.07,241.01 532.98,241.04 533.88,241.06 534.79,241.09 535.70,241.12 536.61,241.16 537.52,241.19 538.42,241.23 539.33,241.27 540.24,241.32 541.15,241.37 542.06,241.42 542.97,241.48 543.88,241.54 544.78,241.61 545.69,241.68 546.60,241.75 547.51,241.84 548.42,241.93 549.33,242.02 550.23,242.12 551.14,242.23 552.05,242.35 552.96,242.48 553.87,242.62 554.77,242.77 555.68,242.93 556.59,243.10 557.50,243.28 558.41,243.48 559.32,243.69 560.23,243.91 561.13,244.16 562.04,244.42 562.95,244.69 563.86,244.99 564.77,245.31 565.67,245.64 566.58,246.00 567.49,246.39 568.40,246.80 569.31,247.23 570.22,247.69 571.12,248.18 572.03,248.70 572.94,249.25 573.85,249.83 574.76,250.45 575.67,251.10 576.58,251.78 577.48,252.49 578.39,253.24 579.30,254.02 580.21,254.84 581.12,255.70 582.02,256.59 582.93,257.51 583.84,258.46 584.75,259.45 585.66,260.47 586.57,261.51 587.48,262.58 588.38,263.68 589.29,264.79 590.20,265.93 591.11,267.08 592.02,268.25 592.92,269.42 593.83,270.60 594.74,271.79 595.65,272.97 596.56,274.15 597.47,275.32 598.38,276.48 599.28,277.63 600.19,278.75 601.10,279.86 602.01,280.95 602.92,282.01 603.83,283.04 604.73,284.05 605.64,285.02 606.55,285.97 607.46,286.87 608.37,287.75 609.27,288.59 610.18,289.39 611.09,290.16 612.00,290.90" fill="none" stroke="#151515" stroke-width="0.9"/>
<circle cx="503.00" cy="240.70" r="2.05" fill="#000"/>
<circle cx="516.62" cy="250.33" r="2.05" fill="#000"/>
<circle cx="535.70" cy="255.01" r="2.05" fill="#000"/>
<circle cx="554.77" cy="261.92" r="2.05" fill="#000"/>
<circle cx="573.85" cy="265.26" r="2.05" fill="#000"/>
<circle cx="592.92" cy="269.58" r="2.05" fill="#000"/>
<circle cx="612.00" cy="274.08" r="2.05" fill="#000"/>
<text x="529.31" y="243.10" font-size="12.50" textLength="74.86" lengthAdjust="spacingAndGlyphs" fill="#111">GI50  1872nM</text>
<line x1="633.50" y1="231.20" x2="633.50" y2="309.00" stroke="#1a1a1a" stroke-width="0.9"/>
<line x1="633.05" y1="308.50" x2="742.65" y2="308.50" stroke="#1a1a1a" stroke-width="0.9"/>
<line x1="633.50" y1="308.50" x2="633.50" y2="310.70" stroke="#1a1a1a" stroke-width="0.9"/>
<line x1="660.50" y1="308.50" x2="660.50" y2="310.70" stroke="#1a1a1a" stroke-width="0.9"/>
<line x1="687.90" y1="308.50" x2="687.90" y2="310.70" stroke="#1a1a1a" stroke-width="0.9"/>
<line x1="715.05" y1="308.50" x2="715.05" y2="310.70" stroke="#1a1a1a" stroke-width="0.9"/>
<line x1="742.50" y1="308.50" x2="742.50" y2="310.70" stroke="#1a1a1a" stroke-width="0.9"/>
<line x1="631.70" y1="302.50" x2="633.50" y2="302.50" stroke="#1a1a1a" stroke-width="0.9"/>
<line x1="631.70" y1="271.50" x2="633.50" y2="271.50" stroke="#1a1a1a" stroke-width="0.9"/>
<line x1="631.70" y1="240.50" x2="633.50" y2="240.50" stroke="#1a1a1a" stroke-width="0.9"/>
<text x="633.60" y="323.00" font-size="12.00" text-anchor="middle" fill="#111">0</text>
<text x="660.75" y="323.00" font-size="12.00" text-anchor="middle" fill="#111">1</text>
<text x="687.90" y="323.00" font-size="12.00" text-anchor="middle" fill="#111">2</text>
<text x="715.05" y="323.00" font-size="12.00" text-anchor="middle" fill="#111">3</text>
<text x="742.20" y="323.00" font-size="12.00" text-anchor="middle" fill="#111">4</text>
<text x="630.40" y="306.20" font-size="11.80" text-anchor="end" fill="#111">0</text>
<text x="630.40" y="275.35" font-size="11.80" text-anchor="end" fill="#111">50</text>
<text x="630.40" y="244.50" font-size="11.80" text-anchor="end" fill="#111">100</text>
<polyline points="633.60,240.73 634.50,240.73 635.41,240.73 636.32,240.74 637.22,240.74 638.12,240.74 639.03,240.74 639.94,240.75 640.84,240.75 641.75,240.76 642.65,240.76 643.56,240.77 644.46,240.77 645.37,240.78 646.27,240.78 647.18,240.79 648.08,240.80 648.99,240.80 649.89,240.81 650.80,240.82 651.70,240.83 652.61,240.84 653.51,240.85 654.42,240.86 655.32,240.88 656.23,240.89 657.13,240.91 658.03,240.92 658.94,240.94 659.85,240.96 660.75,240.98 661.65,241.00 662.56,241.03 663.47,241.05 664.37,241.08 665.27,241.11 666.18,241.14 667.09,241.18 667.99,241.22 668.89,241.26 669.80,241.30 670.71,241.35 671.61,241.40 672.51,241.46 673.42,241.52 674.33,241.58 675.23,241.65 676.13,241.72 677.04,241.80 677.95,241.89 678.85,241.98 679.75,242.08 680.66,242.19 681.57,242.31 682.47,242.43 683.38,242.56 684.28,242.71 685.19,242.86 686.09,243.03 687.00,243.21 687.90,243.40 688.81,243.60 689.71,243.82 690.62,244.06 691.52,244.31 692.43,244.58 693.33,244.87 694.24,245.18 695.14,245.51 696.05,245.86 696.95,246.23 697.86,246.63 698.76,247.05 699.66,247.51 700.57,247.98 701.48,248.49 702.38,249.03 703.29,249.60 704.19,250.20 705.10,250.83 706.00,251.50 706.90,252.20 707.81,252.94 708.72,253.71 709.62,254.51 710.52,255.35 711.43,256.23 712.34,257.13 713.24,258.08 714.14,259.05 715.05,260.06 715.96,261.09 716.86,262.15 717.76,263.24 718.67,264.35 719.58,265.47 720.48,266.62 721.38,267.78 722.29,268.95 723.20,270.13 724.10,271.31 725.00,272.50 725.91,273.68 726.82,274.85 727.72,276.02 728.62,277.17 729.53,278.31 730.44,279.42 731.34,280.52 732.25,281.59 733.15,282.63 734.06,283.65 734.96,284.64 735.87,285.59 736.77,286.51 737.68,287.40 738.58,288.26 739.49,289.08 740.39,289.86 741.30,290.61 742.20,291.32" fill="none" stroke="#151515" stroke-width="0.9"/>
<circle cx="633.60" cy="240.70" r="2.05" fill="#000"/>
<circle cx="647.18" cy="259.83" r="2.05" fill="#000"/>
<circle cx="666.18" cy="262.36" r="2.05" fill="#000"/>
<circle cx="685.19" cy="262.36" r="2.05" fill="#000"/>
<line x1="704.19" y1="264.45" x2="704.19" y2="268.77" stroke="#111" stroke-width="0.8"/>
<line x1="702.09" y1="264.45" x2="706.29" y2="264.45" stroke="#111" stroke-width="0.8"/>
<line x1="702.09" y1="268.77" x2="706.29" y2="268.77" stroke="#111" stroke-width="0.8"/>
<circle cx="704.19" cy="266.61" r="2.05" fill="#000"/>
<circle cx="723.20" cy="269.21" r="2.05" fill="#000"/>
<line x1="742.20" y1="270.62" x2="742.20" y2="274.94" stroke="#111" stroke-width="0.8"/>
<line x1="740.10" y1="270.62" x2="744.30" y2="270.62" stroke="#111" stroke-width="0.8"/>
<line x1="740.10" y1="274.94" x2="744.30" y2="274.94" stroke="#111" stroke-width="0.8"/>
<circle cx="742.20" cy="272.78" r="2.05" fill="#000"/>
<text x="671.01" y="243.10" font-size="12.50" textLength="70.85" lengthAdjust="spacingAndGlyphs" fill="#111">GI50 1898nM</text>
<line x1="82.50" y1="338.90" x2="82.50" y2="416.70" stroke="#1a1a1a" stroke-width="0.9"/>
<line x1="82.05" y1="416.20" x2="191.55" y2="416.20" stroke="#1a1a1a" stroke-width="0.9"/>
<line x1="82.50" y1="416.20" x2="82.50" y2="418.40" stroke="#1a1a1a" stroke-width="0.9"/>
<line x1="109.50" y1="416.20" x2="109.50" y2="418.40" stroke="#1a1a1a" stroke-width="0.9"/>
<line x1="136.50" y1="416.20" x2="136.50" y2="418.40" stroke="#1a1a1a" stroke-width="0.9"/>
<line x1="163.90" y1="416.20" x2="163.90" y2="418.40" stroke="#1a1a1a" stroke-width="0.9"/>
<line x1="191.10" y1="416.20" x2="191.10" y2="418.40" stroke="#1a1a1a" stroke-width="0.9"/>
<line x1="80.70" y1="409.80" x2="82.50" y2="409.80" stroke="#1a1a1a" stroke-width="0.9"/>
<line x1="80.70" y1="379.00" x2="82.50" y2="379.00" stroke="#1a1a1a" stroke-width="0.9"/>
<line x1="80.70" y1="348.20" x2="82.50" y2="348.20" stroke="#1a1a1a" stroke-width="0.9"/>
<text x="82.30" y="430.80" font-size="12.00" text-anchor="middle" fill="#111">0</text>
<text x="109.50" y="430.80" font-size="12.00" text-anchor="middle" fill="#111">1</text>
<text x="136.70" y="430.80" font-size="12.00" text-anchor="middle" fill="#111">2</text>
<text x="163.90" y="430.80" font-size="12.00" text-anchor="middle" fill="#111">3</text>
<text x="191.10" y="430.80" font-size="12.00" text-anchor="middle" fill="#111">4</text>
<text x="79.10" y="413.60" font-size="11.80" text-anchor="end" fill="#111">0</text>
<text x="79.10" y="382.80" font-size="11.80" text-anchor="end" fill="#111">50</text>
<text x="79.10" y="352.00" font-size="11.80" text-anchor="end" fill="#111">100</text>
<polyline points="82.30,348.20 83.21,348.20 84.11,348.20 85.02,348.20 85.93,348.20 86.83,348.20 87.74,348.20 88.65,348.20 89.55,348.21 90.46,348.21 91.37,348.21 92.27,348.21 93.18,348.21 94.09,348.21 94.99,348.21 95.90,348.21 96.81,348.21 97.71,348.21 98.62,348.21 99.53,348.21 100.43,348.21 101.34,348.21 102.25,348.21 103.15,348.22 104.06,348.22 104.97,348.22 105.87,348.22 106.78,348.22 107.69,348.22 108.59,348.23 109.50,348.23 110.41,348.23 111.31,348.23 112.22,348.23 113.13,348.24 114.03,348.24 114.94,348.24 115.85,348.25 116.75,348.25 117.66,348.25 118.57,348.26 119.47,348.26 120.38,348.27 121.29,348.27 122.19,348.28 123.10,348.29 124.01,348.29 124.91,348.30 125.82,348.31 126.73,348.32 127.63,348.33 128.54,348.34 129.45,348.35 130.35,348.36 131.26,348.37 132.17,348.39 133.07,348.40 133.98,348.42 134.89,348.44 135.79,348.45 136.70,348.47 137.61,348.50 138.51,348.52 139.42,348.54 140.33,348.57 141.23,348.60 142.14,348.63 143.05,348.67 143.95,348.70 144.86,348.74 145.77,348.79 146.67,348.83 147.58,348.88 148.49,348.94 149.39,349.00 150.30,349.06 151.21,349.13 152.11,349.20 153.02,349.28 153.93,349.36 154.83,349.45 155.74,349.55 156.65,349.65 157.55,349.77 158.46,349.89 159.37,350.02 160.27,350.16 161.18,350.31 162.09,350.47 162.99,350.65 163.90,350.83 164.81,351.03 165.71,351.25 166.62,351.48 167.53,351.73 168.43,351.99 169.34,352.27 170.25,352.57 171.15,352.90 172.06,353.24 172.97,353.61 173.87,354.00 174.78,354.41 175.69,354.86 176.59,355.33 177.50,355.82 178.41,356.35 179.31,356.91 180.22,357.50 181.13,358.12 182.03,358.78 182.94,359.47 183.85,360.19 184.75,360.95 185.66,361.74 186.57,362.57 187.47,363.44 188.38,364.33 189.29,365.26 190.19,366.23 191.10,367.22" fill="none" stroke="#151515" stroke-width="0.9"/>
<circle cx="82.30" cy="348.20" r="2.05" fill="#000"/>
<circle cx="95.90" cy="354.05" r="2.05" fill="#000"/>
<circle cx="114.94" cy="353.50" r="2.05" fill="#000"/>
<circle cx="133.98" cy="360.46" r="2.05" fill="#000"/>
<circle cx="153.02" cy="359.90" r="2.05" fill="#000"/>
<circle cx="172.06" cy="361.01" r="2.05" fill="#000"/>
<circle cx="191.10" cy="364.46" r="2.05" fill="#000"/>
<text x="104.70" y="340.70" font-size="12.50" textLength="85.47" lengthAdjust="spacingAndGlyphs" fill="#111">GI50 &gt;10000nM</text>
<line x1="218.50" y1="338.90" x2="218.50" y2="416.70" stroke="#1a1a1a" stroke-width="0.9"/>
<line x1="218.05" y1="416.20" x2="327.75" y2="416.20" stroke="#1a1a1a" stroke-width="0.9"/>
<line x1="218.50" y1="416.20" x2="218.50" y2="418.40" stroke="#1a1a1a" stroke-width="0.9"/>
<line x1="245.50" y1="416.20" x2="245.50" y2="418.40" stroke="#1a1a1a" stroke-width="0.9"/>
<line x1="272.80" y1="416.20" x2="272.80" y2="418.40" stroke="#1a1a1a" stroke-width="0.9"/>
<line x1="300.05" y1="416.20" x2="300.05" y2="418.40" stroke="#1a1a1a" stroke-width="0.9"/>
<line x1="327.50" y1="416.20" x2="327.50" y2="418.40" stroke="#1a1a1a" stroke-width="0.9"/>
<line x1="216.70" y1="409.80" x2="218.50" y2="409.80" stroke="#1a1a1a" stroke-width="0.9"/>
<line x1="216.70" y1="379.00" x2="218.50" y2="379.00" stroke="#1a1a1a" stroke-width="0.9"/>
<line x1="216.70" y1="348.20" x2="218.50" y2="348.20" stroke="#1a1a1a" stroke-width="0.9"/>
<text x="218.30" y="430.80" font-size="12.00" text-anchor="middle" fill="#111">0</text>
<text x="245.55" y="430.80" font-size="12.00" text-anchor="middle" fill="#111">1</text>
<text x="272.80" y="430.80" font-size="12.00" text-anchor="middle" fill="#111">2</text>
<text x="300.05" y="430.80" font-size="12.00" text-anchor="middle" fill="#111">3</text>
<text x="327.30" y="430.80" font-size="12.00" text-anchor="middle" fill="#111">4</text>
<text x="215.10" y="413.60" font-size="11.80" text-anchor="end" fill="#111">0</text>
<text x="215.10" y="382.80" font-size="11.80" text-anchor="end" fill="#111">50</text>
<text x="215.10" y="352.00" font-size="11.80" text-anchor="end" fill="#111">100</text>
<polyline points="218.30,348.20 219.21,348.20 220.12,348.20 221.03,348.20 221.93,348.20 222.84,348.20 223.75,348.20 224.66,348.20 225.57,348.20 226.48,348.20 227.38,348.20 228.29,348.20 229.20,348.20 230.11,348.20 231.02,348.20 231.93,348.20 232.83,348.20 233.74,348.20 234.65,348.20 235.56,348.20 236.47,348.20 237.38,348.20 238.28,348.21 239.19,348.21 240.10,348.21 241.01,348.21 241.92,348.21 242.83,348.21 243.73,348.21 244.64,348.21 245.55,348.21 246.46,348.21 247.37,348.21 248.28,348.21 249.18,348.21 250.09,348.21 251.00,348.22 251.91,348.22 252.82,348.22 253.73,348.22 254.63,348.22 255.54,348.22 256.45,348.22 257.36,348.23 258.27,348.23 259.18,348.23 260.08,348.23 260.99,348.24 261.90,348.24 262.81,348.24 263.72,348.25 264.62,348.25 265.53,348.25 266.44,348.26 267.35,348.26 268.26,348.27 269.17,348.27 270.07,348.28 270.98,348.28 271.89,348.29 272.80,348.30 273.71,348.31 274.62,348.31 275.53,348.32 276.43,348.33 277.34,348.34 278.25,348.35 279.16,348.37 280.07,348.38 280.98,348.39 281.88,348.41 282.79,348.43 283.70,348.44 284.61,348.46 285.52,348.48 286.43,348.51 287.33,348.53 288.24,348.56 289.15,348.59 290.06,348.62 290.97,348.65 291.88,348.69 292.78,348.72 293.69,348.77 294.60,348.81 295.51,348.86 296.42,348.91 297.32,348.97 298.23,349.03 299.14,349.09 300.05,349.16 300.96,349.24 301.87,349.32 302.78,349.41 303.68,349.50 304.59,349.60 305.50,349.71 306.41,349.83 307.32,349.95 308.23,350.09 309.13,350.23 310.04,350.39 310.95,350.56 311.86,350.74 312.77,350.93 313.68,351.14 314.58,351.36 315.49,351.60 316.40,351.86 317.31,352.13 318.22,352.42 319.12,352.73 320.03,353.07 320.94,353.42 321.85,353.80 322.76,354.20 323.67,354.63 324.57,355.09 325.48,355.57 326.39,356.08 327.30,356.63" fill="none" stroke="#151515" stroke-width="0.9"/>
<circle cx="218.30" cy="348.20" r="2.05" fill="#000"/>
<circle cx="231.93" cy="345.30" r="2.05" fill="#000"/>
<circle cx="251.00" cy="345.12" r="2.05" fill="#000"/>
<circle cx="270.07" cy="347.58" r="2.05" fill="#000"/>
<circle cx="289.15" cy="350.91" r="2.05" fill="#000"/>
<line x1="308.23" y1="353.93" x2="308.23" y2="356.39" stroke="#111" stroke-width="0.8"/>
<line x1="306.12" y1="353.93" x2="310.33" y2="353.93" stroke="#111" stroke-width="0.8"/>
<line x1="306.12" y1="356.39" x2="310.33" y2="356.39" stroke="#111" stroke-width="0.8"/>
<circle cx="308.23" cy="355.16" r="2.05" fill="#000"/>
<line x1="327.30" y1="353.13" x2="327.30" y2="358.06" stroke="#111" stroke-width="0.8"/>
<line x1="325.20" y1="353.13" x2="329.40" y2="353.13" stroke="#111" stroke-width="0.8"/>
<line x1="325.20" y1="358.06" x2="329.40" y2="358.06" stroke="#111" stroke-width="0.8"/>
<circle cx="327.30" cy="355.59" r="2.05" fill="#000"/>
<text x="240.31" y="340.50" font-size="12.50" textLength="81.87" lengthAdjust="spacingAndGlyphs" fill="#111">GI50  &gt;6000nM</text>
<line x1="360.50" y1="338.90" x2="360.50" y2="416.70" stroke="#1a1a1a" stroke-width="0.9"/>
<line x1="360.05" y1="416.20" x2="469.97" y2="416.20" stroke="#1a1a1a" stroke-width="0.9"/>
<line x1="360.50" y1="416.20" x2="360.50" y2="418.40" stroke="#1a1a1a" stroke-width="0.9"/>
<line x1="387.83" y1="416.20" x2="387.83" y2="418.40" stroke="#1a1a1a" stroke-width="0.9"/>
<line x1="415.06" y1="416.20" x2="415.06" y2="418.40" stroke="#1a1a1a" stroke-width="0.9"/>
<line x1="442.50" y1="416.20" x2="442.50" y2="418.40" stroke="#1a1a1a" stroke-width="0.9"/>
<line x1="469.50" y1="416.20" x2="469.50" y2="418.40" stroke="#1a1a1a" stroke-width="0.9"/>
<line x1="358.70" y1="409.80" x2="360.50" y2="409.80" stroke="#1a1a1a" stroke-width="0.9"/>
<line x1="358.70" y1="379.00" x2="360.50" y2="379.00" stroke="#1a1a1a" stroke-width="0.9"/>
<line x1="358.70" y1="348.20" x2="360.50" y2="348.20" stroke="#1a1a1a" stroke-width="0.9"/>
<text x="360.60" y="430.80" font-size="12.00" text-anchor="middle" fill="#111">0</text>
<text x="387.83" y="430.80" font-size="12.00" text-anchor="middle" fill="#111">1</text>
<text x="415.06" y="430.80" font-size="12.00" text-anchor="middle" fill="#111">2</text>
<text x="442.29" y="430.80" font-size="12.00" text-anchor="middle" fill="#111">3</text>
<text x="469.52" y="430.80" font-size="12.00" text-anchor="middle" fill="#111">4</text>
<text x="357.40" y="413.60" font-size="11.80" text-anchor="end" fill="#111">0</text>
<text x="357.40" y="382.80" font-size="11.80" text-anchor="end" fill="#111">50</text>
<text x="357.40" y="352.00" font-size="11.80" text-anchor="end" fill="#111">100</text>
<polyline points="360.60,348.20 361.51,348.21 362.42,348.21 363.32,348.21 364.23,348.21 365.14,348.21 366.05,348.21 366.95,348.21 367.86,348.21 368.77,348.21 369.68,348.21 370.58,348.21 371.49,348.21 372.40,348.21 373.31,348.21 374.22,348.22 375.12,348.22 376.03,348.22 376.94,348.22 377.85,348.22 378.75,348.22 379.66,348.22 380.57,348.23 381.48,348.23 382.38,348.23 383.29,348.23 384.20,348.24 385.11,348.24 386.01,348.24 386.92,348.25 387.83,348.25 388.74,348.25 389.65,348.26 390.55,348.26 391.46,348.27 392.37,348.27 393.28,348.28 394.18,348.28 395.09,348.29 396.00,348.30 396.91,348.31 397.81,348.31 398.72,348.32 399.63,348.33 400.54,348.34 401.45,348.35 402.35,348.37 403.26,348.38 404.17,348.39 405.08,348.41 405.98,348.43 406.89,348.44 407.80,348.46 408.71,348.48 409.61,348.51 410.52,348.53 411.43,348.56 412.34,348.59 413.24,348.62 414.15,348.65 415.06,348.69 415.97,348.72 416.88,348.77 417.78,348.81 418.69,348.86 419.60,348.91 420.51,348.97 421.41,349.03 422.32,349.09 423.23,349.16 424.14,349.24 425.04,349.32 425.95,349.41 426.86,349.50 427.77,349.60 428.68,349.71 429.58,349.83 430.49,349.95 431.40,350.09 432.31,350.23 433.21,350.39 434.12,350.56 435.03,350.74 435.94,350.93 436.84,351.14 437.75,351.36 438.66,351.60 439.57,351.86 440.47,352.13 441.38,352.42 442.29,352.73 443.20,353.07 444.11,353.42 445.01,353.80 445.92,354.20 446.83,354.63 447.74,355.09 448.64,355.57 449.55,356.08 450.46,356.63 451.37,357.20 452.27,357.81 453.18,358.45 454.09,359.12 455.00,359.83 455.91,360.57 456.81,361.34 457.72,362.15 458.63,363.00 459.54,363.88 460.44,364.79 461.35,365.74 462.26,366.72 463.17,367.73 464.07,368.77 464.98,369.83 465.89,370.92 466.80,372.03 467.70,373.16 468.61,374.31 469.52,375.47" fill="none" stroke="#151515" stroke-width="0.9"/>
<circle cx="360.60" cy="348.20" r="2.05" fill="#000"/>
<circle cx="374.22" cy="346.48" r="2.05" fill="#000"/>
<circle cx="393.28" cy="352.08" r="2.05" fill="#000"/>
<circle cx="412.34" cy="353.25" r="2.05" fill="#000"/>
<circle cx="431.40" cy="356.82" r="2.05" fill="#000"/>
<circle cx="450.46" cy="366.43" r="2.05" fill="#000"/>
<circle cx="469.52" cy="370.38" r="2.05" fill="#000"/>
<text x="375.31" y="340.50" font-size="12.50" textLength="85.17" lengthAdjust="spacingAndGlyphs" fill="#111">GI50 &gt;10000nM</text>
<line x1="503.00" y1="338.90" x2="503.00" y2="416.70" stroke="#1a1a1a" stroke-width="0.9"/>
<line x1="502.55" y1="416.20" x2="612.45" y2="416.20" stroke="#1a1a1a" stroke-width="0.9"/>
<line x1="503.00" y1="416.20" x2="503.00" y2="418.40" stroke="#1a1a1a" stroke-width="0.9"/>
<line x1="530.50" y1="416.20" x2="530.50" y2="418.40" stroke="#1a1a1a" stroke-width="0.9"/>
<line x1="557.50" y1="416.20" x2="557.50" y2="418.40" stroke="#1a1a1a" stroke-width="0.9"/>
<line x1="584.50" y1="416.20" x2="584.50" y2="418.40" stroke="#1a1a1a" stroke-width="0.9"/>
<line x1="612.00" y1="416.20" x2="612.00" y2="418.40" stroke="#1a1a1a" stroke-width="0.9"/>
<line x1="501.20" y1="409.80" x2="503.00" y2="409.80" stroke="#1a1a1a" stroke-width="0.9"/>
<line x1="501.20" y1="379.00" x2="503.00" y2="379.00" stroke="#1a1a1a" stroke-width="0.9"/>
<line x1="501.20" y1="348.20" x2="503.00" y2="348.20" stroke="#1a1a1a" stroke-width="0.9"/>
<text x="503.00" y="430.80" font-size="12.00" text-anchor="middle" fill="#111">0</text>
<text x="530.25" y="430.80" font-size="12.00" text-anchor="middle" fill="#111">1</text>
<text x="557.50" y="430.80" font-size="12.00" text-anchor="middle" fill="#111">2</text>
<text x="584.75" y="430.80" font-size="12.00" text-anchor="middle" fill="#111">3</text>
<text x="612.00" y="430.80" font-size="12.00" text-anchor="middle" fill="#111">4</text>
<text x="499.80" y="413.60" font-size="11.80" text-anchor="end" fill="#111">0</text>
<text x="499.80" y="382.80" font-size="11.80" text-anchor="end" fill="#111">50</text>
<text x="499.80" y="352.00" font-size="11.80" text-anchor="end" fill="#111">100</text>
<circle cx="503.00" cy="348.20" r="2.05" fill="#000"/>
<line x1="516.62" y1="345.37" x2="516.62" y2="350.29" stroke="#111" stroke-width="0.8"/>
<line x1="514.52" y1="345.37" x2="518.73" y2="345.37" stroke="#111" stroke-width="0.8"/>
<line x1="514.52" y1="350.29" x2="518.73" y2="350.29" stroke="#111" stroke-width="0.8"/>
<circle cx="516.62" cy="347.83" r="2.05" fill="#000"/>
<line x1="535.70" y1="344.94" x2="535.70" y2="349.86" stroke="#111" stroke-width="0.8"/>
<line x1="533.60" y1="344.94" x2="537.80" y2="344.94" stroke="#111" stroke-width="0.8"/>
<line x1="533.60" y1="349.86" x2="537.80" y2="349.86" stroke="#111" stroke-width="0.8"/>
<circle cx="535.70" cy="347.40" r="2.05" fill="#000"/>
<circle cx="554.77" cy="349.74" r="2.05" fill="#000"/>
<line x1="573.85" y1="348.94" x2="573.85" y2="354.48" stroke="#111" stroke-width="0.8"/>
<line x1="571.75" y1="348.94" x2="575.95" y2="348.94" stroke="#111" stroke-width="0.8"/>
<line x1="571.75" y1="354.48" x2="575.95" y2="354.48" stroke="#111" stroke-width="0.8"/>
<circle cx="573.85" cy="351.71" r="2.05" fill="#000"/>
<circle cx="592.92" cy="347.03" r="2.05" fill="#000"/>
<line x1="612.00" y1="345.74" x2="612.00" y2="350.66" stroke="#111" stroke-width="0.8"/>
<line x1="609.90" y1="345.74" x2="614.10" y2="345.74" stroke="#111" stroke-width="0.8"/>
<line x1="609.90" y1="350.66" x2="614.10" y2="350.66" stroke="#111" stroke-width="0.8"/>
<circle cx="612.00" cy="348.20" r="2.05" fill="#000"/>
<text x="513.90" y="340.50" font-size="12.50" textLength="85.27" lengthAdjust="spacingAndGlyphs" fill="#111">GI50 &gt;10000nM</text>
<line x1="633.50" y1="338.90" x2="633.50" y2="416.70" stroke="#1a1a1a" stroke-width="0.9"/>
<line x1="633.05" y1="416.20" x2="742.65" y2="416.20" stroke="#1a1a1a" stroke-width="0.9"/>
<line x1="633.50" y1="416.20" x2="633.50" y2="418.40" stroke="#1a1a1a" stroke-width="0.9"/>
<line x1="660.50" y1="416.20" x2="660.50" y2="418.40" stroke="#1a1a1a" stroke-width="0.9"/>
<line x1="687.90" y1="416.20" x2="687.90" y2="418.40" stroke="#1a1a1a" stroke-width="0.9"/>
<line x1="715.05" y1="416.20" x2="715.05" y2="418.40" stroke="#1a1a1a" stroke-width="0.9"/>
<line x1="742.50" y1="416.20" x2="742.50" y2="418.40" stroke="#1a1a1a" stroke-width="0.9"/>
<line x1="631.70" y1="409.80" x2="633.50" y2="409.80" stroke="#1a1a1a" stroke-width="0.9"/>
<line x1="631.70" y1="379.00" x2="633.50" y2="379.00" stroke="#1a1a1a" stroke-width="0.9"/>
<line x1="631.70" y1="348.20" x2="633.50" y2="348.20" stroke="#1a1a1a" stroke-width="0.9"/>
<text x="633.60" y="430.80" font-size="12.00" text-anchor="middle" fill="#111">0</text>
<text x="660.75" y="430.80" font-size="12.00" text-anchor="middle" fill="#111">1</text>
<text x="687.90" y="430.80" font-size="12.00" text-anchor="middle" fill="#111">2</text>
<text x="715.05" y="430.80" font-size="12.00" text-anchor="middle" fill="#111">3</text>
<text x="742.20" y="430.80" font-size="12.00" text-anchor="middle" fill="#111">4</text>
<text x="630.40" y="413.60" font-size="11.80" text-anchor="end" fill="#111">0</text>
<text x="630.40" y="382.80" font-size="11.80" text-anchor="end" fill="#111">50</text>
<text x="630.40" y="352.00" font-size="11.80" text-anchor="end" fill="#111">100</text>
<polyline points="633.60,348.20 634.50,348.20 635.41,348.20 636.32,348.20 637.22,348.20 638.12,348.20 639.03,348.20 639.94,348.20 640.84,348.20 641.75,348.20 642.65,348.20 643.56,348.20 644.46,348.20 645.37,348.20 646.27,348.20 647.18,348.20 648.08,348.20 648.99,348.20 649.89,348.20 650.80,348.20 651.70,348.20 652.61,348.20 653.51,348.20 654.42,348.20 655.32,348.20 656.23,348.20 657.13,348.20 658.03,348.21 658.94,348.21 659.85,348.21 660.75,348.21 661.65,348.21 662.56,348.21 663.47,348.21 664.37,348.21 665.27,348.21 666.18,348.21 667.09,348.21 667.99,348.21 668.89,348.21 669.80,348.21 670.71,348.22 671.61,348.22 672.51,348.22 673.42,348.22 674.33,348.22 675.23,348.22 676.13,348.22 677.04,348.23 677.95,348.23 678.85,348.23 679.75,348.23 680.66,348.23 681.57,348.24 682.47,348.24 683.38,348.24 684.28,348.25 685.19,348.25 686.09,348.26 687.00,348.26 687.90,348.26 688.81,348.27 689.71,348.28 690.62,348.28 691.52,348.29 692.43,348.29 693.33,348.30 694.24,348.31 695.14,348.32 696.05,348.33 696.95,348.34 697.86,348.35 698.76,348.36 699.66,348.37 700.57,348.39 701.48,348.40 702.38,348.42 703.29,348.44 704.19,348.46 705.10,348.48 706.00,348.50 706.90,348.52 707.81,348.55 708.72,348.57 709.62,348.60 710.52,348.64 711.43,348.67 712.34,348.71 713.24,348.75 714.14,348.79 715.05,348.84 715.96,348.89 716.86,348.94 717.76,349.00 718.67,349.06 719.58,349.13 720.48,349.21 721.38,349.28 722.29,349.37 723.20,349.46 724.10,349.56 725.00,349.66 725.91,349.78 726.82,349.90 727.72,350.03 728.62,350.17 729.53,350.33 730.44,350.49 731.34,350.67 732.25,350.85 733.15,351.06 734.06,351.27 734.96,351.50 735.87,351.75 736.77,352.02 737.68,352.30 738.58,352.61 739.49,352.93 740.39,353.28 741.30,353.65 742.20,354.04" fill="none" stroke="#151515" stroke-width="0.9"/>
<circle cx="633.60" cy="348.20" r="2.05" fill="#000"/>
<circle cx="647.18" cy="348.20" r="2.05" fill="#000"/>
<circle cx="666.18" cy="346.48" r="2.05" fill="#000"/>
<circle cx="685.19" cy="347.21" r="2.05" fill="#000"/>
<circle cx="704.19" cy="349.74" r="2.05" fill="#000"/>
<circle cx="723.20" cy="353.44" r="2.05" fill="#000"/>
<circle cx="742.20" cy="354.61" r="2.05" fill="#000"/>
<text x="657.31" y="340.50" font-size="12.50" textLength="77.85" lengthAdjust="spacingAndGlyphs" fill="#111">GI50 &gt;7000nM</text>
<text x="108.68" y="448.50" font-size="14.30" textLength="58.25" lengthAdjust="spacingAndGlyphs" fill="#111">idelalisib</text>
<text x="248.06" y="447.80" font-size="14.30" textLength="54.37" lengthAdjust="spacingAndGlyphs" fill="#111">alpelisib</text>
<text x="382.26" y="447.40" font-size="14.30" textLength="67.07" lengthAdjust="spacingAndGlyphs" fill="#111">copanlisib</text>
<text x="527.87" y="449.30" font-size="14.30" textLength="62.78" lengthAdjust="spacingAndGlyphs" fill="#111">AZD8186</text>
<text x="661.16" y="449.40" font-size="14.30" textLength="58.97" lengthAdjust="spacingAndGlyphs" fill="#111">duvelisib</text>
<text x="346.04" y="469.70" font-size="15.10" textLength="152.79" lengthAdjust="spacingAndGlyphs" fill="#111">Concentration (log nM)</text>
<text x="1.12" y="484.70" font-size="19.40" textLength="13.85" lengthAdjust="spacingAndGlyphs" font-weight="bold" fill="#000">B</text>
<line x1="30.20" y1="534.50" x2="30.20" y2="637.50" stroke="#555" stroke-width="0.9"/>
<line x1="30.20" y1="637.50" x2="230.90" y2="637.50" stroke="#1a1a1a" stroke-width="0.9"/>
<line x1="28.00" y1="637.50" x2="30.20" y2="637.50" stroke="#555" stroke-width="0.9"/>
<text transform="translate(27.20,640.30) scale(1.200,1)" x="0" y="0" font-size="8.60" text-anchor="end" fill="#111">0</text>
<line x1="28.00" y1="611.50" x2="30.20" y2="611.50" stroke="#555" stroke-width="0.9"/>
<text transform="translate(27.20,614.62) scale(1.200,1)" x="0" y="0" font-size="8.60" text-anchor="end" fill="#111">10</text>
<line x1="28.00" y1="585.95" x2="30.20" y2="585.95" stroke="#555" stroke-width="0.9"/>
<text transform="translate(27.20,588.95) scale(1.200,1)" x="0" y="0" font-size="8.60" text-anchor="end" fill="#111">20</text>
<line x1="28.00" y1="560.50" x2="30.20" y2="560.50" stroke="#555" stroke-width="0.9"/>
<text transform="translate(27.20,563.27) scale(1.200,1)" x="0" y="0" font-size="8.60" text-anchor="end" fill="#111">30</text>
<line x1="28.00" y1="534.50" x2="30.20" y2="534.50" stroke="#555" stroke-width="0.9"/>
<text transform="translate(27.20,537.60) scale(1.200,1)" x="0" y="0" font-size="8.60" text-anchor="end" fill="#111">40</text>
<text x="93.68" y="501.60" font-size="15.10" textLength="47.07" lengthAdjust="spacingAndGlyphs" fill="#111">MCC-3</text>
<text transform="translate(12.80,644.85) rotate(-90)" x="0" y="0" font-size="10.20" textLength="115.18" lengthAdjust="spacingAndGlyphs" fill="#111">% Apoptotic cell death rate</text>
<rect x="37.25" y="615.22" width="9.20" height="22.08" fill="#b6f8e2" stroke="#222" stroke-width="0.7"/>
<rect x="46.45" y="611.01" width="9.20" height="26.29" fill="#08c880" stroke="#222" stroke-width="0.7"/>
<line x1="49.45" y1="610.31" x2="52.65" y2="610.31" stroke="#222" stroke-width="0.7"/>
<rect x="55.65" y="601.10" width="9.20" height="36.20" fill="#1d98c0" stroke="#222" stroke-width="0.7"/>
<line x1="58.65" y1="600.40" x2="61.85" y2="600.40" stroke="#222" stroke-width="0.7"/>
<rect x="64.85" y="597.25" width="9.20" height="40.05" fill="#06068a" stroke="#222" stroke-width="0.7"/>
<line x1="67.85" y1="596.55" x2="71.05" y2="596.55" stroke="#222" stroke-width="0.7"/>
<line x1="55.65" y1="637.30" x2="55.65" y2="638.80" stroke="#1a1a1a" stroke-width="0.8"/>
<line x1="39.05" y1="641.00" x2="72.55" y2="641.00" stroke="#777" stroke-width="1.0"/>
<polyline points="42.50,612.50 42.50,603.50 50.50,603.50 50.50,608.10" fill="none" stroke="#505050" stroke-width="1.0"/>
<polyline points="42.50,601.90 42.50,595.50 59.50,595.50 59.50,598.10" fill="none" stroke="#505050" stroke-width="1.0"/>
<polyline points="42.50,593.10 42.50,588.50 68.50,588.50 68.50,593.10" fill="none" stroke="#505050" stroke-width="1.0"/>
<polygon points="42.35,581.45 43.26,583.31 46.01,583.35 43.81,584.54 44.61,586.42 42.35,585.30 40.09,586.42 40.89,584.54 38.69,583.35 41.44,583.31" fill="#111" stroke="#111" stroke-width="0.35" stroke-linejoin="round"/>
<polygon points="51.00,581.45 51.91,583.31 54.66,583.35 52.46,584.54 53.26,586.42 51.00,585.30 48.74,586.42 49.54,584.54 47.34,583.35 50.09,583.31" fill="#111" stroke="#111" stroke-width="0.35" stroke-linejoin="round"/>
<polygon points="59.65,581.45 60.56,583.31 63.31,583.35 61.11,584.54 61.91,586.42 59.65,585.30 57.39,586.42 58.19,584.54 55.99,583.35 58.74,583.31" fill="#111" stroke="#111" stroke-width="0.35" stroke-linejoin="round"/>
<polygon points="68.30,581.45 69.21,583.31 71.96,583.35 69.76,584.54 70.56,586.42 68.30,585.30 66.04,586.42 66.84,584.54 64.64,583.35 67.39,583.31" fill="#111" stroke="#111" stroke-width="0.35" stroke-linejoin="round"/>
<text x="31.11" y="653.40" font-size="11.40" textLength="45.49" lengthAdjust="spacingAndGlyphs" fill="#111">idelalisib</text>
<rect x="87.50" y="615.48" width="9.10" height="21.82" fill="#b6f8e2" stroke="#222" stroke-width="0.7"/>
<rect x="96.60" y="593.91" width="9.10" height="43.39" fill="#08c880" stroke="#222" stroke-width="0.7"/>
<line x1="99.55" y1="593.21" x2="102.75" y2="593.21" stroke="#222" stroke-width="0.7"/>
<rect x="105.70" y="576.81" width="9.10" height="60.49" fill="#1d98c0" stroke="#222" stroke-width="0.7"/>
<line x1="108.65" y1="576.11" x2="111.85" y2="576.11" stroke="#222" stroke-width="0.7"/>
<rect x="114.80" y="568.49" width="9.10" height="68.81" fill="#06068a" stroke="#222" stroke-width="0.7"/>
<line x1="117.75" y1="567.79" x2="120.95" y2="567.79" stroke="#222" stroke-width="0.7"/>
<line x1="105.70" y1="637.30" x2="105.70" y2="638.80" stroke="#1a1a1a" stroke-width="0.8"/>
<line x1="89.30" y1="641.00" x2="122.40" y2="641.00" stroke="#777" stroke-width="1.0"/>
<polyline points="90.50,607.50 90.50,588.50 100.50,588.50 100.50,589.75" fill="none" stroke="#505050" stroke-width="1.0"/>
<polyline points="90.50,585.60 90.50,573.50 109.50,573.50 109.50,575.60" fill="none" stroke="#505050" stroke-width="1.0"/>
<polyline points="90.50,571.25 90.50,561.50 118.50,561.50 118.50,565.00" fill="none" stroke="#505050" stroke-width="1.0"/>
<polygon points="93.60,554.85 94.51,556.71 97.26,556.75 95.06,557.94 95.86,559.82 93.60,558.70 91.34,559.82 92.14,557.94 89.94,556.75 92.69,556.71" fill="#111" stroke="#111" stroke-width="0.35" stroke-linejoin="round"/>
<polygon points="102.03,554.85 102.94,556.71 105.69,556.75 103.50,557.94 104.30,559.82 102.03,558.70 99.77,559.82 100.57,557.94 98.37,556.75 101.13,556.71" fill="#111" stroke="#111" stroke-width="0.35" stroke-linejoin="round"/>
<polygon points="110.47,554.85 111.37,556.71 114.13,556.75 111.93,557.94 112.73,559.82 110.47,558.70 108.20,559.82 109.00,557.94 106.81,556.75 109.56,556.71" fill="#111" stroke="#111" stroke-width="0.35" stroke-linejoin="round"/>
<polygon points="118.90,554.85 119.81,556.71 122.56,556.75 120.36,557.94 121.16,559.82 118.90,558.70 116.64,559.82 117.44,557.94 115.24,556.75 117.99,556.71" fill="#111" stroke="#111" stroke-width="0.35" stroke-linejoin="round"/>
<text x="79.20" y="653.40" font-size="11.40" textLength="52.70" lengthAdjust="spacingAndGlyphs" fill="#111">copanlisib</text>
<rect x="137.40" y="615.60" width="9.15" height="21.70" fill="#b6f8e2" stroke="#222" stroke-width="0.7"/>
<rect x="146.55" y="611.24" width="9.15" height="26.06" fill="#08c880" stroke="#222" stroke-width="0.7"/>
<line x1="149.53" y1="610.54" x2="152.72" y2="610.54" stroke="#222" stroke-width="0.7"/>
<rect x="155.70" y="604.18" width="9.15" height="33.12" fill="#1d98c0" stroke="#222" stroke-width="0.7"/>
<line x1="158.68" y1="603.48" x2="161.88" y2="603.48" stroke="#222" stroke-width="0.7"/>
<rect x="164.85" y="597.89" width="9.15" height="39.41" fill="#06068a" stroke="#222" stroke-width="0.7"/>
<line x1="167.83" y1="597.19" x2="171.03" y2="597.19" stroke="#222" stroke-width="0.7"/>
<line x1="155.70" y1="637.30" x2="155.70" y2="638.80" stroke="#1a1a1a" stroke-width="0.8"/>
<line x1="139.20" y1="641.00" x2="172.50" y2="641.00" stroke="#777" stroke-width="1.0"/>
<polyline points="142.50,612.75 142.50,605.50 150.50,605.50 150.50,608.10" fill="none" stroke="#505050" stroke-width="1.0"/>
<polyline points="142.50,604.40 142.50,597.50 159.50,597.50 159.50,600.60" fill="none" stroke="#505050" stroke-width="1.0"/>
<polyline points="142.50,595.60 142.50,590.50 168.50,590.50 168.50,593.10" fill="none" stroke="#505050" stroke-width="1.0"/>
<polygon points="143.50,583.95 144.41,585.81 147.16,585.85 144.96,587.04 145.76,588.92 143.50,587.80 141.24,588.92 142.04,587.04 139.84,585.85 142.59,585.81" fill="#111" stroke="#111" stroke-width="0.35" stroke-linejoin="round"/>
<polygon points="151.93,583.95 152.84,585.81 155.59,585.85 153.40,587.04 154.20,588.92 151.93,587.80 149.67,588.92 150.47,587.04 148.27,585.85 151.03,585.81" fill="#111" stroke="#111" stroke-width="0.35" stroke-linejoin="round"/>
<polygon points="160.37,583.95 161.27,585.81 164.03,585.85 161.83,587.04 162.63,588.92 160.37,587.80 158.10,588.92 158.90,587.04 156.71,585.85 159.46,585.81" fill="#111" stroke="#111" stroke-width="0.35" stroke-linejoin="round"/>
<polygon points="168.80,583.95 169.71,585.81 172.46,585.85 170.26,587.04 171.06,588.92 168.80,587.80 166.54,588.92 167.34,587.04 165.14,585.85 167.89,585.81" fill="#111" stroke="#111" stroke-width="0.35" stroke-linejoin="round"/>
<text x="132.78" y="653.40" font-size="11.40" textLength="49.74" lengthAdjust="spacingAndGlyphs" fill="#111">AZD8186</text>
<rect x="187.40" y="615.60" width="9.20" height="21.70" fill="#b6f8e2" stroke="#222" stroke-width="0.7"/>
<rect x="196.60" y="599.40" width="9.20" height="37.90" fill="#08c880" stroke="#222" stroke-width="0.7"/>
<line x1="199.60" y1="598.70" x2="202.80" y2="598.70" stroke="#222" stroke-width="0.7"/>
<rect x="205.80" y="591.34" width="9.20" height="45.96" fill="#1d98c0" stroke="#222" stroke-width="0.7"/>
<line x1="208.80" y1="590.64" x2="212.00" y2="590.64" stroke="#222" stroke-width="0.7"/>
<rect x="215.00" y="581.84" width="9.20" height="55.46" fill="#06068a" stroke="#222" stroke-width="0.7"/>
<line x1="218.00" y1="581.14" x2="221.20" y2="581.14" stroke="#222" stroke-width="0.7"/>
<line x1="205.80" y1="637.30" x2="205.80" y2="638.80" stroke="#1a1a1a" stroke-width="0.8"/>
<line x1="189.20" y1="641.00" x2="222.70" y2="641.00" stroke="#777" stroke-width="1.0"/>
<polyline points="192.50,611.90 192.50,594.50 200.50,594.50 200.50,596.90" fill="none" stroke="#505050" stroke-width="1.0"/>
<polyline points="192.50,592.25 192.50,585.50 209.50,585.50 209.50,587.75" fill="none" stroke="#505050" stroke-width="1.0"/>
<polyline points="192.50,582.50 192.50,577.50 219.50,577.50 219.50,579.75" fill="none" stroke="#505050" stroke-width="1.0"/>
<polygon points="193.85,570.65 194.76,572.51 197.51,572.55 195.31,573.74 196.11,575.62 193.85,574.50 191.59,575.62 192.39,573.74 190.19,572.55 192.94,572.51" fill="#111" stroke="#111" stroke-width="0.35" stroke-linejoin="round"/>
<polygon points="202.28,570.65 203.19,572.51 205.94,572.55 203.75,573.74 204.55,575.62 202.28,574.50 200.02,575.62 200.82,573.74 198.62,572.55 201.38,572.51" fill="#111" stroke="#111" stroke-width="0.35" stroke-linejoin="round"/>
<polygon points="210.72,570.65 211.62,572.51 214.38,572.55 212.18,573.74 212.98,575.62 210.72,574.50 208.45,575.62 209.25,573.74 207.06,572.55 209.81,572.51" fill="#111" stroke="#111" stroke-width="0.35" stroke-linejoin="round"/>
<polygon points="219.15,570.65 220.06,572.51 222.81,572.55 220.61,573.74 221.41,575.62 219.15,574.50 216.89,575.62 217.69,573.74 215.49,572.55 218.24,572.51" fill="#111" stroke="#111" stroke-width="0.35" stroke-linejoin="round"/>
<text x="184.80" y="653.40" font-size="11.40" textLength="46.61" lengthAdjust="spacingAndGlyphs" fill="#111">duvelisib</text>
<line x1="58.05" y1="523.50" x2="208.95" y2="523.50" stroke="#333" stroke-width="0.9"/>
<line x1="58.50" y1="523.50" x2="58.50" y2="534.50" stroke="#333" stroke-width="0.9"/>
<line x1="53.20" y1="534.50" x2="63.80" y2="534.50" stroke="#333" stroke-width="0.9"/>
<line x1="107.50" y1="523.50" x2="107.50" y2="534.50" stroke="#333" stroke-width="0.9"/>
<line x1="102.20" y1="534.50" x2="112.80" y2="534.50" stroke="#333" stroke-width="0.9"/>
<line x1="158.50" y1="523.50" x2="158.50" y2="534.50" stroke="#333" stroke-width="0.9"/>
<line x1="153.20" y1="534.50" x2="163.80" y2="534.50" stroke="#333" stroke-width="0.9"/>
<line x1="208.50" y1="523.50" x2="208.50" y2="534.50" stroke="#333" stroke-width="0.9"/>
<line x1="203.20" y1="534.50" x2="213.80" y2="534.50" stroke="#333" stroke-width="0.9"/>
<text x="76.55" y="520.60" font-size="8.90" textLength="14.90" lengthAdjust="spacingAndGlyphs" fill="#111" stroke="#111" stroke-width="0.15"># #</text>
<text x="125.25" y="520.60" font-size="8.90" textLength="14.90" lengthAdjust="spacingAndGlyphs" fill="#111" stroke="#111" stroke-width="0.15"># #</text>
<text x="174.15" y="520.60" font-size="8.90" textLength="14.90" lengthAdjust="spacingAndGlyphs" fill="#111" stroke="#111" stroke-width="0.15"># #</text>
<line x1="270.50" y1="533.50" x2="270.50" y2="637.50" stroke="#555" stroke-width="0.9"/>
<line x1="270.50" y1="637.50" x2="470.90" y2="637.50" stroke="#1a1a1a" stroke-width="0.9"/>
<line x1="268.30" y1="637.50" x2="270.50" y2="637.50" stroke="#555" stroke-width="0.9"/>
<text transform="translate(267.60,640.60) scale(1.200,1)" x="0" y="0" font-size="8.60" text-anchor="end" fill="#111">0</text>
<line x1="268.30" y1="611.50" x2="270.50" y2="611.50" stroke="#555" stroke-width="0.9"/>
<text transform="translate(267.60,614.52) scale(1.200,1)" x="0" y="0" font-size="8.60" text-anchor="end" fill="#111">10</text>
<line x1="268.30" y1="585.50" x2="270.50" y2="585.50" stroke="#555" stroke-width="0.9"/>
<text transform="translate(267.60,588.45) scale(1.200,1)" x="0" y="0" font-size="8.60" text-anchor="end" fill="#111">20</text>
<line x1="268.30" y1="559.50" x2="270.50" y2="559.50" stroke="#555" stroke-width="0.9"/>
<text transform="translate(267.60,562.38) scale(1.200,1)" x="0" y="0" font-size="8.60" text-anchor="end" fill="#111">30</text>
<line x1="268.30" y1="533.50" x2="270.50" y2="533.50" stroke="#555" stroke-width="0.9"/>
<text transform="translate(267.60,536.30) scale(1.200,1)" x="0" y="0" font-size="8.60" text-anchor="end" fill="#111">40</text>
<text x="353.08" y="501.60" font-size="15.10" textLength="47.02" lengthAdjust="spacingAndGlyphs" fill="#111">MCC-9</text>
<text transform="translate(251.70,644.35) rotate(-90)" x="0" y="0" font-size="10.20" textLength="116.28" lengthAdjust="spacingAndGlyphs" fill="#111">% Apoptotic cell death rate</text>
<rect x="277.40" y="611.26" width="9.15" height="26.34" fill="#b6f8e2" stroke="#222" stroke-width="0.7"/>
<rect x="286.55" y="606.05" width="9.15" height="31.55" fill="#08c880" stroke="#222" stroke-width="0.7"/>
<line x1="289.52" y1="605.35" x2="292.72" y2="605.35" stroke="#222" stroke-width="0.7"/>
<rect x="295.70" y="599.01" width="9.15" height="38.59" fill="#1d98c0" stroke="#222" stroke-width="0.7"/>
<line x1="298.67" y1="598.31" x2="301.88" y2="598.31" stroke="#222" stroke-width="0.7"/>
<rect x="304.85" y="596.51" width="9.15" height="41.09" fill="#06068a" stroke="#222" stroke-width="0.7"/>
<line x1="307.82" y1="595.81" x2="311.02" y2="595.81" stroke="#222" stroke-width="0.7"/>
<line x1="295.70" y1="637.60" x2="295.70" y2="639.10" stroke="#1a1a1a" stroke-width="0.8"/>
<line x1="279.20" y1="641.30" x2="312.50" y2="641.30" stroke="#777" stroke-width="1.0"/>
<polyline points="281.50,603.50 281.50,593.50 290.50,593.50 290.50,598.75" fill="none" stroke="#505050" stroke-width="1.0"/>
<polyline points="281.50,592.50 281.50,586.50 299.50,586.50 299.50,588.75" fill="none" stroke="#505050" stroke-width="1.0"/>
<polyline points="281.50,583.75 281.50,578.50 308.50,578.50 308.50,583.75" fill="none" stroke="#505050" stroke-width="1.0"/>
<polygon points="281.85,572.35 282.76,574.21 285.51,574.25 283.31,575.44 284.11,577.32 281.85,576.20 279.59,577.32 280.39,575.44 278.19,574.25 280.94,574.21" fill="#111" stroke="#111" stroke-width="0.35" stroke-linejoin="round"/>
<polygon points="290.53,572.35 291.44,574.21 294.19,574.25 292.00,575.44 292.80,577.32 290.53,576.20 288.27,577.32 289.07,575.44 286.87,574.25 289.63,574.21" fill="#111" stroke="#111" stroke-width="0.35" stroke-linejoin="round"/>
<polygon points="299.22,572.35 300.12,574.21 302.88,574.25 300.68,575.44 301.48,577.32 299.22,576.20 296.95,577.32 297.75,575.44 295.56,574.25 298.31,574.21" fill="#111" stroke="#111" stroke-width="0.35" stroke-linejoin="round"/>
<polygon points="307.90,572.35 308.81,574.21 311.56,574.25 309.36,575.44 310.16,577.32 307.90,576.20 305.64,577.32 306.44,575.44 304.24,574.25 306.99,574.21" fill="#111" stroke="#111" stroke-width="0.35" stroke-linejoin="round"/>
<text x="271.72" y="653.40" font-size="11.40" textLength="44.77" lengthAdjust="spacingAndGlyphs" fill="#111">idelalisib</text>
<rect x="328.00" y="611.60" width="9.20" height="26.00" fill="#b6f8e2" stroke="#222" stroke-width="0.7"/>
<rect x="337.20" y="583.10" width="9.20" height="54.50" fill="#08c880" stroke="#222" stroke-width="0.7"/>
<line x1="340.20" y1="582.40" x2="343.40" y2="582.40" stroke="#222" stroke-width="0.7"/>
<rect x="346.40" y="571.63" width="9.20" height="65.97" fill="#1d98c0" stroke="#222" stroke-width="0.7"/>
<line x1="349.40" y1="570.93" x2="352.60" y2="570.93" stroke="#222" stroke-width="0.7"/>
<rect x="355.60" y="557.11" width="9.20" height="80.49" fill="#06068a" stroke="#222" stroke-width="0.7"/>
<line x1="358.60" y1="556.41" x2="361.80" y2="556.41" stroke="#222" stroke-width="0.7"/>
<line x1="346.40" y1="637.60" x2="346.40" y2="639.10" stroke="#1a1a1a" stroke-width="0.8"/>
<line x1="329.80" y1="641.30" x2="363.30" y2="641.30" stroke="#777" stroke-width="1.0"/>
<polyline points="330.50,598.75 330.50,579.50 341.50,579.50 341.50,581.25" fill="none" stroke="#505050" stroke-width="1.0"/>
<polyline points="330.50,576.90 330.50,565.50 350.50,565.50 350.50,567.25" fill="none" stroke="#505050" stroke-width="1.0"/>
<polyline points="330.50,562.50 330.50,551.50 359.50,551.50 359.50,556.25" fill="none" stroke="#505050" stroke-width="1.0"/>
<polygon points="334.10,545.45 335.01,547.31 337.76,547.35 335.56,548.54 336.36,550.42 334.10,549.30 331.84,550.42 332.64,548.54 330.44,547.35 333.19,547.31" fill="#111" stroke="#111" stroke-width="0.35" stroke-linejoin="round"/>
<polygon points="342.53,545.45 343.44,547.31 346.19,547.35 344.00,548.54 344.80,550.42 342.53,549.30 340.27,550.42 341.07,548.54 338.87,547.35 341.63,547.31" fill="#111" stroke="#111" stroke-width="0.35" stroke-linejoin="round"/>
<polygon points="350.97,545.45 351.87,547.31 354.63,547.35 352.43,548.54 353.23,550.42 350.97,549.30 348.70,550.42 349.50,548.54 347.31,547.35 350.06,547.31" fill="#111" stroke="#111" stroke-width="0.35" stroke-linejoin="round"/>
<polygon points="359.40,545.45 360.31,547.31 363.06,547.35 360.86,548.54 361.66,550.42 359.40,549.30 357.14,550.42 357.94,548.54 355.74,547.35 358.49,547.31" fill="#111" stroke="#111" stroke-width="0.35" stroke-linejoin="round"/>
<text x="320.91" y="653.40" font-size="11.40" textLength="51.27" lengthAdjust="spacingAndGlyphs" fill="#111">copanlisib</text>
<rect x="378.25" y="611.52" width="9.25" height="26.08" fill="#b6f8e2" stroke="#222" stroke-width="0.7"/>
<rect x="387.50" y="611.26" width="9.25" height="26.34" fill="#08c880" stroke="#222" stroke-width="0.7"/>
<line x1="390.52" y1="610.56" x2="393.73" y2="610.56" stroke="#222" stroke-width="0.7"/>
<rect x="396.75" y="598.10" width="9.25" height="39.50" fill="#1d98c0" stroke="#222" stroke-width="0.7"/>
<line x1="399.77" y1="597.40" x2="402.98" y2="597.40" stroke="#222" stroke-width="0.7"/>
<rect x="406.00" y="594.76" width="9.25" height="42.84" fill="#06068a" stroke="#222" stroke-width="0.7"/>
<line x1="409.02" y1="594.06" x2="412.23" y2="594.06" stroke="#222" stroke-width="0.7"/>
<line x1="396.75" y1="637.60" x2="396.75" y2="639.10" stroke="#1a1a1a" stroke-width="0.8"/>
<line x1="380.05" y1="641.30" x2="413.75" y2="641.30" stroke="#777" stroke-width="1.0"/>
<polyline points="383.50,600.00 383.50,593.50 400.50,593.50 400.50,596.25" fill="none" stroke="#505050" stroke-width="1.0"/>
<polyline points="383.50,591.00 383.50,587.50 410.50,587.50 410.50,588.75" fill="none" stroke="#505050" stroke-width="1.0"/>
<polygon points="384.10,580.45 385.01,582.31 387.76,582.35 385.56,583.54 386.36,585.42 384.10,584.30 381.84,585.42 382.64,583.54 380.44,582.35 383.19,582.31" fill="#111" stroke="#111" stroke-width="0.35" stroke-linejoin="round"/>
<polygon points="392.73,580.45 393.64,582.31 396.39,582.35 394.20,583.54 395.00,585.42 392.73,584.30 390.47,585.42 391.27,583.54 389.07,582.35 391.83,582.31" fill="#111" stroke="#111" stroke-width="0.35" stroke-linejoin="round"/>
<polygon points="401.37,580.45 402.27,582.31 405.03,582.35 402.83,583.54 403.63,585.42 401.37,584.30 399.10,585.42 399.90,583.54 397.71,582.35 400.46,582.31" fill="#111" stroke="#111" stroke-width="0.35" stroke-linejoin="round"/>
<polygon points="410.00,580.45 410.91,582.31 413.66,582.35 411.46,583.54 412.26,585.42 410.00,584.30 407.74,585.42 408.54,583.54 406.34,582.35 409.09,582.31" fill="#111" stroke="#111" stroke-width="0.35" stroke-linejoin="round"/>
<text x="373.38" y="653.40" font-size="11.40" textLength="51.16" lengthAdjust="spacingAndGlyphs" fill="#111">AZD8186</text>
<rect x="428.60" y="611.60" width="9.30" height="26.00" fill="#b6f8e2" stroke="#222" stroke-width="0.7"/>
<rect x="437.90" y="591.24" width="9.30" height="46.36" fill="#08c880" stroke="#222" stroke-width="0.7"/>
<line x1="440.95" y1="590.54" x2="444.15" y2="590.54" stroke="#222" stroke-width="0.7"/>
<rect x="447.20" y="589.75" width="9.30" height="47.85" fill="#1d98c0" stroke="#222" stroke-width="0.7"/>
<line x1="450.25" y1="589.05" x2="453.45" y2="589.05" stroke="#222" stroke-width="0.7"/>
<rect x="456.50" y="567.72" width="9.30" height="69.88" fill="#06068a" stroke="#222" stroke-width="0.7"/>
<line x1="459.55" y1="567.02" x2="462.75" y2="567.02" stroke="#222" stroke-width="0.7"/>
<line x1="447.20" y1="637.60" x2="447.20" y2="639.10" stroke="#1a1a1a" stroke-width="0.8"/>
<line x1="430.40" y1="641.30" x2="464.30" y2="641.30" stroke="#777" stroke-width="1.0"/>
<polyline points="433.50,608.75 433.50,586.50 441.50,586.50 441.50,587.50" fill="none" stroke="#505050" stroke-width="1.0"/>
<polyline points="433.50,585.00 433.50,577.50 451.50,577.50 451.50,580.60" fill="none" stroke="#505050" stroke-width="1.0"/>
<polyline points="433.50,575.00 433.50,563.50 460.50,563.50 460.50,566.90" fill="none" stroke="#505050" stroke-width="1.0"/>
<polygon points="434.70,555.95 435.61,557.81 438.36,557.85 436.16,559.04 436.96,560.92 434.70,559.80 432.44,560.92 433.24,559.04 431.04,557.85 433.79,557.81" fill="#111" stroke="#111" stroke-width="0.35" stroke-linejoin="round"/>
<polygon points="443.13,555.95 444.04,557.81 446.79,557.85 444.60,559.04 445.40,560.92 443.13,559.80 440.87,560.92 441.67,559.04 439.47,557.85 442.23,557.81" fill="#111" stroke="#111" stroke-width="0.35" stroke-linejoin="round"/>
<polygon points="451.57,555.95 452.47,557.81 455.23,557.85 453.03,559.04 453.83,560.92 451.57,559.80 449.30,560.92 450.10,559.04 447.91,557.85 450.66,557.81" fill="#111" stroke="#111" stroke-width="0.35" stroke-linejoin="round"/>
<polygon points="460.00,555.95 460.91,557.81 463.66,557.85 461.46,559.04 462.26,560.92 460.00,559.80 457.74,560.92 458.54,559.04 456.34,557.85 459.09,557.81" fill="#111" stroke="#111" stroke-width="0.35" stroke-linejoin="round"/>
<text x="427.71" y="653.40" font-size="11.40" textLength="45.38" lengthAdjust="spacingAndGlyphs" fill="#111">duvelisib</text>
<line x1="298.05" y1="521.50" x2="450.95" y2="521.50" stroke="#333" stroke-width="0.9"/>
<line x1="298.50" y1="521.50" x2="298.50" y2="533.50" stroke="#333" stroke-width="0.9"/>
<line x1="293.20" y1="533.50" x2="303.80" y2="533.50" stroke="#333" stroke-width="0.9"/>
<line x1="348.50" y1="521.50" x2="348.50" y2="533.50" stroke="#333" stroke-width="0.9"/>
<line x1="343.20" y1="533.50" x2="353.80" y2="533.50" stroke="#333" stroke-width="0.9"/>
<line x1="399.50" y1="521.50" x2="399.50" y2="533.50" stroke="#333" stroke-width="0.9"/>
<line x1="394.20" y1="533.50" x2="404.80" y2="533.50" stroke="#333" stroke-width="0.9"/>
<line x1="450.50" y1="521.50" x2="450.50" y2="533.50" stroke="#333" stroke-width="0.9"/>
<line x1="445.20" y1="533.50" x2="455.80" y2="533.50" stroke="#333" stroke-width="0.9"/>
<text x="316.85" y="518.80" font-size="8.90" textLength="14.90" lengthAdjust="spacingAndGlyphs" fill="#111" stroke="#111" stroke-width="0.15"># #</text>
<text x="366.25" y="518.80" font-size="8.90" textLength="14.90" lengthAdjust="spacingAndGlyphs" fill="#111" stroke="#111" stroke-width="0.15"># #</text>
<text x="415.15" y="518.80" font-size="8.90" textLength="14.90" lengthAdjust="spacingAndGlyphs" fill="#111" stroke="#111" stroke-width="0.15"># #</text>
<line x1="507.00" y1="533.50" x2="507.00" y2="637.50" stroke="#555" stroke-width="0.9"/>
<line x1="507.00" y1="637.50" x2="707.40" y2="637.50" stroke="#1a1a1a" stroke-width="0.9"/>
<line x1="504.80" y1="637.50" x2="507.00" y2="637.50" stroke="#555" stroke-width="0.9"/>
<text transform="translate(504.00,640.20) scale(1.200,1)" x="0" y="0" font-size="8.60" text-anchor="end" fill="#111">0</text>
<line x1="504.80" y1="611.50" x2="507.00" y2="611.50" stroke="#555" stroke-width="0.9"/>
<text transform="translate(504.00,614.20) scale(1.200,1)" x="0" y="0" font-size="8.60" text-anchor="end" fill="#111">10</text>
<line x1="504.80" y1="585.50" x2="507.00" y2="585.50" stroke="#555" stroke-width="0.9"/>
<text transform="translate(504.00,588.20) scale(1.200,1)" x="0" y="0" font-size="8.60" text-anchor="end" fill="#111">20</text>
<line x1="504.80" y1="559.50" x2="507.00" y2="559.50" stroke="#555" stroke-width="0.9"/>
<text transform="translate(504.00,562.20) scale(1.200,1)" x="0" y="0" font-size="8.60" text-anchor="end" fill="#111">30</text>
<line x1="504.80" y1="533.50" x2="507.00" y2="533.50" stroke="#555" stroke-width="0.9"/>
<text transform="translate(504.00,536.20) scale(1.200,1)" x="0" y="0" font-size="8.60" text-anchor="end" fill="#111">40</text>
<text x="593.74" y="501.60" font-size="15.10" textLength="52.75" lengthAdjust="spacingAndGlyphs" fill="#111">MCC-21</text>
<text transform="translate(491.50,644.35) rotate(-90)" x="0" y="0" font-size="10.20" textLength="116.28" lengthAdjust="spacingAndGlyphs" fill="#111">% Apoptotic cell death rate</text>
<rect x="513.40" y="613.64" width="9.30" height="23.56" fill="#b6f8e2" stroke="#222" stroke-width="0.7"/>
<rect x="522.70" y="612.06" width="9.30" height="25.14" fill="#08c880" stroke="#222" stroke-width="0.7"/>
<line x1="525.75" y1="611.36" x2="528.95" y2="611.36" stroke="#222" stroke-width="0.7"/>
<rect x="532.00" y="607.56" width="9.30" height="29.64" fill="#1d98c0" stroke="#222" stroke-width="0.7"/>
<line x1="535.05" y1="606.86" x2="538.25" y2="606.86" stroke="#222" stroke-width="0.7"/>
<rect x="541.30" y="606.39" width="9.30" height="30.81" fill="#06068a" stroke="#222" stroke-width="0.7"/>
<line x1="544.35" y1="605.69" x2="547.55" y2="605.69" stroke="#222" stroke-width="0.7"/>
<line x1="532.00" y1="637.20" x2="532.00" y2="638.70" stroke="#1a1a1a" stroke-width="0.8"/>
<line x1="515.20" y1="640.90" x2="549.10" y2="640.90" stroke="#777" stroke-width="1.0"/>
<polyline points="518.50,611.90 518.50,606.50 526.50,606.50 526.50,608.10" fill="none" stroke="#505050" stroke-width="1.0"/>
<polyline points="518.50,604.40 518.50,599.50 536.50,599.50 536.50,604.00" fill="none" stroke="#505050" stroke-width="1.0"/>
<polyline points="518.50,597.50 518.50,589.50 545.50,589.50 545.50,594.00" fill="none" stroke="#505050" stroke-width="1.0"/>
<polygon points="518.85,582.45 519.76,584.31 522.51,584.35 520.31,585.54 521.11,587.42 518.85,586.30 516.59,587.42 517.39,585.54 515.19,584.35 517.94,584.31" fill="#111" stroke="#111" stroke-width="0.35" stroke-linejoin="round"/>
<polygon points="527.37,582.45 528.27,584.31 531.03,584.35 528.83,585.54 529.63,587.42 527.37,586.30 525.10,587.42 525.90,585.54 523.71,584.35 526.46,584.31" fill="#111" stroke="#111" stroke-width="0.35" stroke-linejoin="round"/>
<polygon points="535.88,582.45 536.79,584.31 539.54,584.35 537.35,585.54 538.15,587.42 535.88,586.30 533.62,587.42 534.42,585.54 532.22,584.35 534.98,584.31" fill="#111" stroke="#111" stroke-width="0.35" stroke-linejoin="round"/>
<polygon points="544.40,582.45 545.31,584.31 548.06,584.35 545.86,585.54 546.66,587.42 544.40,586.30 542.14,587.42 542.94,585.54 540.74,584.35 543.49,584.31" fill="#111" stroke="#111" stroke-width="0.35" stroke-linejoin="round"/>
<text x="507.70" y="653.40" font-size="11.40" textLength="46.01" lengthAdjust="spacingAndGlyphs" fill="#111">idelalisib</text>
<rect x="564.25" y="613.64" width="9.25" height="23.56" fill="#b6f8e2" stroke="#222" stroke-width="0.7"/>
<rect x="573.50" y="603.66" width="9.25" height="33.54" fill="#08c880" stroke="#222" stroke-width="0.7"/>
<line x1="576.52" y1="602.96" x2="579.73" y2="602.96" stroke="#222" stroke-width="0.7"/>
<rect x="582.75" y="596.38" width="9.25" height="40.82" fill="#1d98c0" stroke="#222" stroke-width="0.7"/>
<line x1="585.77" y1="595.68" x2="588.98" y2="595.68" stroke="#222" stroke-width="0.7"/>
<rect x="592.00" y="590.50" width="9.25" height="46.70" fill="#06068a" stroke="#222" stroke-width="0.7"/>
<line x1="595.02" y1="589.80" x2="598.23" y2="589.80" stroke="#222" stroke-width="0.7"/>
<line x1="582.75" y1="637.20" x2="582.75" y2="638.70" stroke="#1a1a1a" stroke-width="0.8"/>
<line x1="566.05" y1="640.90" x2="599.75" y2="640.90" stroke="#777" stroke-width="1.0"/>
<polyline points="567.50,610.00 567.50,599.50 577.50,599.50 577.50,601.50" fill="none" stroke="#505050" stroke-width="1.0"/>
<polyline points="567.50,596.90 567.50,591.50 586.50,591.50 586.50,593.75" fill="none" stroke="#505050" stroke-width="1.0"/>
<polyline points="567.50,589.40 567.50,583.50 596.50,583.50 596.50,585.60" fill="none" stroke="#505050" stroke-width="1.0"/>
<polygon points="571.10,574.25 572.01,576.11 574.76,576.15 572.56,577.34 573.36,579.22 571.10,578.10 568.84,579.22 569.64,577.34 567.44,576.15 570.19,576.11" fill="#111" stroke="#111" stroke-width="0.35" stroke-linejoin="round"/>
<polygon points="579.40,574.25 580.31,576.11 583.06,576.15 580.86,577.34 581.66,579.22 579.40,578.10 577.14,579.22 577.94,577.34 575.74,576.15 578.49,576.11" fill="#111" stroke="#111" stroke-width="0.35" stroke-linejoin="round"/>
<polygon points="587.70,574.25 588.61,576.11 591.36,576.15 589.16,577.34 589.96,579.22 587.70,578.10 585.44,579.22 586.24,577.34 584.04,576.15 586.79,576.11" fill="#111" stroke="#111" stroke-width="0.35" stroke-linejoin="round"/>
<polygon points="596.00,574.25 596.91,576.11 599.66,576.15 597.46,577.34 598.26,579.22 596.00,578.10 593.74,579.22 594.54,577.34 592.34,576.15 595.09,576.11" fill="#111" stroke="#111" stroke-width="0.35" stroke-linejoin="round"/>
<text x="557.00" y="653.40" font-size="11.40" textLength="52.50" lengthAdjust="spacingAndGlyphs" fill="#111">copanlisib</text>
<rect x="614.40" y="613.64" width="9.40" height="23.56" fill="#b6f8e2" stroke="#222" stroke-width="0.7"/>
<rect x="623.80" y="615.75" width="9.40" height="21.45" fill="#08c880" stroke="#222" stroke-width="0.7"/>
<line x1="626.90" y1="615.05" x2="630.10" y2="615.05" stroke="#222" stroke-width="0.7"/>
<rect x="633.20" y="607.40" width="9.40" height="29.80" fill="#1d98c0" stroke="#222" stroke-width="0.7"/>
<line x1="636.30" y1="606.70" x2="639.50" y2="606.70" stroke="#222" stroke-width="0.7"/>
<rect x="642.60" y="610.16" width="9.40" height="27.04" fill="#06068a" stroke="#222" stroke-width="0.7"/>
<line x1="645.70" y1="609.46" x2="648.90" y2="609.46" stroke="#222" stroke-width="0.7"/>
<line x1="633.20" y1="637.20" x2="633.20" y2="638.70" stroke="#1a1a1a" stroke-width="0.8"/>
<line x1="616.20" y1="640.90" x2="650.50" y2="640.90" stroke="#777" stroke-width="1.0"/>
<polyline points="620.50,611.25 620.50,605.50 627.50,605.50 627.50,608.10" fill="none" stroke="#505050" stroke-width="1.0"/>
<polyline points="620.50,604.40 620.50,597.50 637.50,597.50 637.50,599.40" fill="none" stroke="#505050" stroke-width="1.0"/>
<polyline points="620.50,596.25 620.50,590.50 646.50,590.50 646.50,592.25" fill="none" stroke="#505050" stroke-width="1.0"/>
<polygon points="620.85,583.75 621.76,585.61 624.51,585.65 622.31,586.84 623.11,588.72 620.85,587.60 618.59,588.72 619.39,586.84 617.19,585.65 619.94,585.61" fill="#111" stroke="#111" stroke-width="0.35" stroke-linejoin="round"/>
<polygon points="629.28,583.75 630.19,585.61 632.94,585.65 630.75,586.84 631.55,588.72 629.28,587.60 627.02,588.72 627.82,586.84 625.62,585.65 628.38,585.61" fill="#111" stroke="#111" stroke-width="0.35" stroke-linejoin="round"/>
<polygon points="637.72,583.75 638.62,585.61 641.38,585.65 639.18,586.84 639.98,588.72 637.72,587.60 635.45,588.72 636.25,586.84 634.06,585.65 636.81,585.61" fill="#111" stroke="#111" stroke-width="0.35" stroke-linejoin="round"/>
<polygon points="646.15,583.75 647.06,585.61 649.81,585.65 647.61,586.84 648.41,588.72 646.15,587.60 643.89,588.72 644.69,586.84 642.49,585.65 645.24,585.61" fill="#111" stroke="#111" stroke-width="0.35" stroke-linejoin="round"/>
<text x="610.78" y="653.40" font-size="11.40" textLength="52.07" lengthAdjust="spacingAndGlyphs" fill="#111">AZD8186</text>
<rect x="665.50" y="613.64" width="9.20" height="23.56" fill="#b6f8e2" stroke="#222" stroke-width="0.7"/>
<rect x="674.70" y="609.90" width="9.20" height="27.30" fill="#08c880" stroke="#222" stroke-width="0.7"/>
<line x1="677.70" y1="609.20" x2="680.90" y2="609.20" stroke="#222" stroke-width="0.7"/>
<rect x="683.90" y="606.39" width="9.20" height="30.81" fill="#1d98c0" stroke="#222" stroke-width="0.7"/>
<line x1="686.90" y1="605.69" x2="690.10" y2="605.69" stroke="#222" stroke-width="0.7"/>
<rect x="693.10" y="607.04" width="9.20" height="30.16" fill="#06068a" stroke="#222" stroke-width="0.7"/>
<line x1="696.10" y1="606.34" x2="699.30" y2="606.34" stroke="#222" stroke-width="0.7"/>
<line x1="683.90" y1="637.20" x2="683.90" y2="638.70" stroke="#1a1a1a" stroke-width="0.8"/>
<line x1="667.30" y1="640.90" x2="700.80" y2="640.90" stroke="#777" stroke-width="1.0"/>
<polyline points="668.50,610.60 668.50,604.50 678.50,604.50 678.50,606.90" fill="none" stroke="#505050" stroke-width="1.0"/>
<polyline points="668.50,601.90 668.50,598.50 687.50,598.50 687.50,601.50" fill="none" stroke="#505050" stroke-width="1.0"/>
<polyline points="668.50,594.75 668.50,590.50 697.50,590.50 697.50,594.40" fill="none" stroke="#505050" stroke-width="1.0"/>
<polygon points="669.85,581.75 670.76,583.61 673.51,583.65 671.31,584.84 672.11,586.72 669.85,585.60 667.59,586.72 668.39,584.84 666.19,583.65 668.94,583.61" fill="#111" stroke="#111" stroke-width="0.35" stroke-linejoin="round"/>
<polygon points="678.28,581.75 679.19,583.61 681.94,583.65 679.75,584.84 680.55,586.72 678.28,585.60 676.02,586.72 676.82,584.84 674.62,583.65 677.38,583.61" fill="#111" stroke="#111" stroke-width="0.35" stroke-linejoin="round"/>
<polygon points="686.72,581.75 687.62,583.61 690.38,583.65 688.18,584.84 688.98,586.72 686.72,585.60 684.45,586.72 685.25,584.84 683.06,583.65 685.81,583.61" fill="#111" stroke="#111" stroke-width="0.35" stroke-linejoin="round"/>
<polygon points="695.15,581.75 696.06,583.61 698.81,583.65 696.61,584.84 697.41,586.72 695.15,585.60 692.89,586.72 693.69,584.84 691.49,583.65 694.24,583.61" fill="#111" stroke="#111" stroke-width="0.35" stroke-linejoin="round"/>
<text x="664.32" y="653.40" font-size="11.40" textLength="44.66" lengthAdjust="spacingAndGlyphs" fill="#111">duvelisib</text>
<line x1="534.05" y1="521.50" x2="686.95" y2="521.50" stroke="#333" stroke-width="0.9"/>
<line x1="534.50" y1="521.50" x2="534.50" y2="532.50" stroke="#333" stroke-width="0.9"/>
<line x1="529.20" y1="532.50" x2="539.80" y2="532.50" stroke="#333" stroke-width="0.9"/>
<line x1="585.50" y1="521.50" x2="585.50" y2="532.50" stroke="#333" stroke-width="0.9"/>
<line x1="580.20" y1="532.50" x2="590.80" y2="532.50" stroke="#333" stroke-width="0.9"/>
<line x1="635.50" y1="521.50" x2="635.50" y2="532.50" stroke="#333" stroke-width="0.9"/>
<line x1="630.20" y1="532.50" x2="640.80" y2="532.50" stroke="#333" stroke-width="0.9"/>
<line x1="686.50" y1="521.50" x2="686.50" y2="532.50" stroke="#333" stroke-width="0.9"/>
<line x1="681.20" y1="532.50" x2="691.80" y2="532.50" stroke="#333" stroke-width="0.9"/>
<text x="553.05" y="518.30" font-size="8.90" textLength="14.90" lengthAdjust="spacingAndGlyphs" fill="#111" stroke="#111" stroke-width="0.15"># #</text>
<text x="602.55" y="518.30" font-size="8.90" textLength="14.90" lengthAdjust="spacingAndGlyphs" fill="#111" stroke="#111" stroke-width="0.15"># #</text>
<text x="651.75" y="518.30" font-size="8.90" textLength="14.90" lengthAdjust="spacingAndGlyphs" fill="#111" stroke="#111" stroke-width="0.15"># #</text>
<rect x="715.6" y="563.70" width="7.0" height="8.00" fill="#b6f8e2" stroke="#333" stroke-width="0.7"/>
<text x="726.67" y="570.70" font-size="8.70" textLength="34.08" lengthAdjust="spacingAndGlyphs" fill="#111">DMSO</text>
<rect x="715.6" y="575.60" width="7.0" height="7.30" fill="#08c880" stroke="#333" stroke-width="0.7"/>
<text x="727.17" y="581.90" font-size="8.70" textLength="20.91" lengthAdjust="spacingAndGlyphs" fill="#111">5nM</text>
<rect x="715.6" y="586.30" width="7.0" height="7.80" fill="#1d98c0" stroke="#333" stroke-width="0.7"/>
<text x="727.17" y="593.10" font-size="8.70" textLength="26.81" lengthAdjust="spacingAndGlyphs" fill="#111">50nM</text>
<rect x="715.6" y="597.30" width="7.0" height="7.50" fill="#06068a" stroke="#333" stroke-width="0.7"/>
<text x="726.79" y="603.80" font-size="8.70" textLength="32.69" lengthAdjust="spacingAndGlyphs" fill="#111">100nM</text>
</svg>
</body></html>
